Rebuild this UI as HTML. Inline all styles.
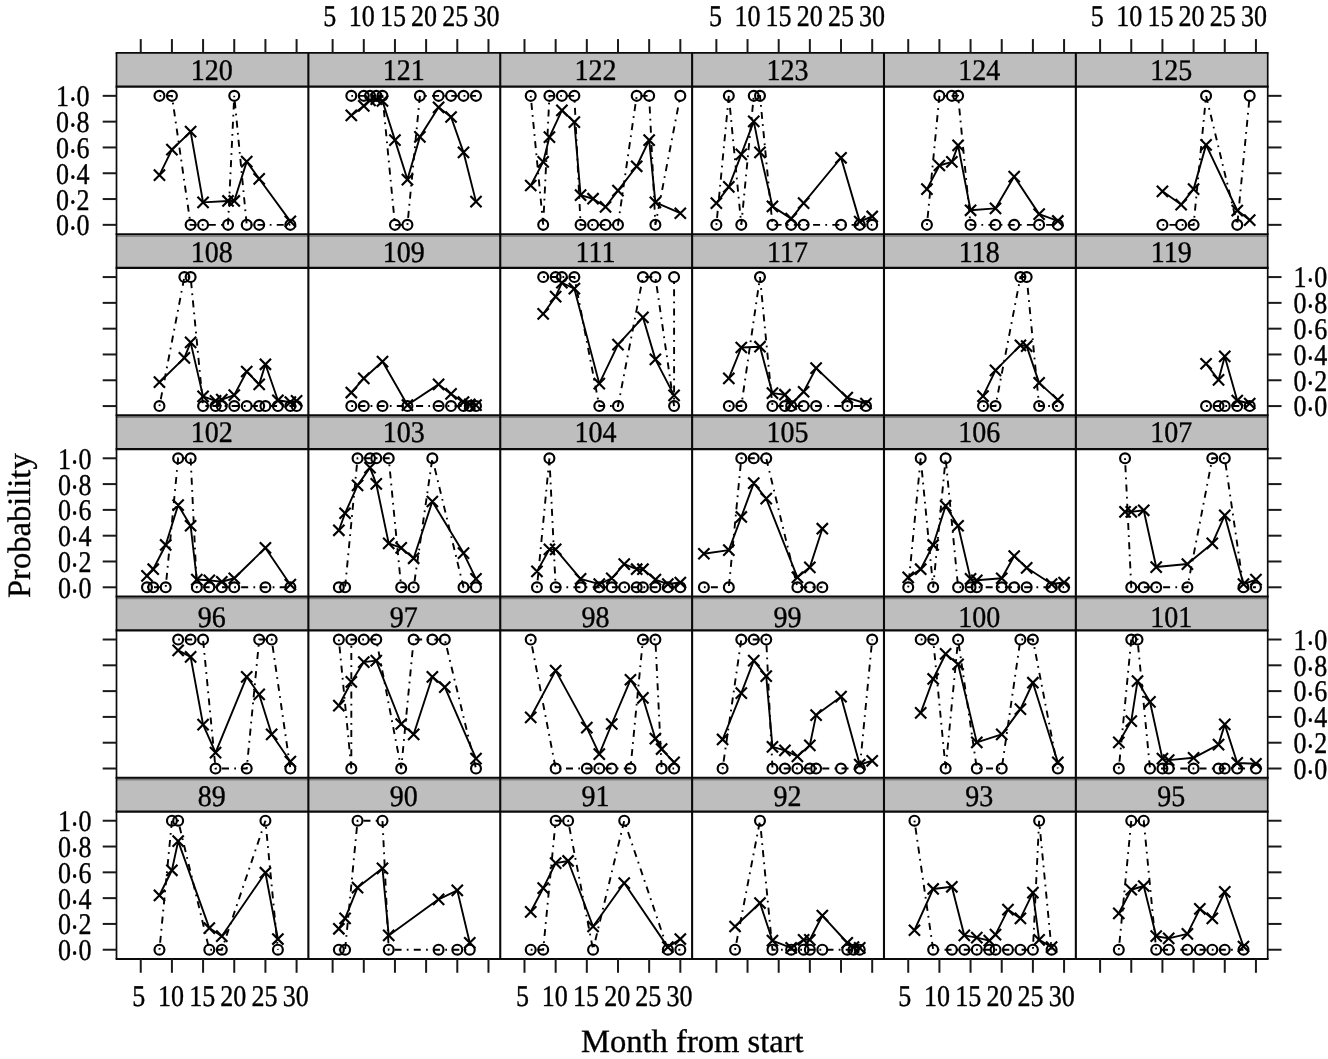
<!DOCTYPE html>
<html><head><meta charset="utf-8"><title>Probability by month from start</title>
<style>html,body{margin:0;padding:0;background:#fff}svg{display:block}svg text{stroke:#000;stroke-width:0.35px;stroke-linejoin:round}</style></head>
<body>
<svg width="1328" height="1059" viewBox="0 0 1328 1059" font-family="'Liberation Serif', serif" fill="#000" text-rendering="geometricPrecision">
<rect width="1328" height="1059" fill="#fff"/>
<rect x="116.5" y="52.88" width="1151.22" height="33.82" fill="#bebebe"/>
<rect x="116.5" y="234.1" width="1151.22" height="33.82" fill="#bebebe"/>
<rect x="116.5" y="234.9" width="1151.22" height="1.9" fill="#7d7d7d"/>
<rect x="116.5" y="415.32" width="1151.22" height="33.82" fill="#bebebe"/>
<rect x="116.5" y="416.12" width="1151.22" height="1.9" fill="#7d7d7d"/>
<rect x="116.5" y="596.54" width="1151.22" height="33.82" fill="#bebebe"/>
<rect x="116.5" y="597.34" width="1151.22" height="1.9" fill="#7d7d7d"/>
<rect x="116.5" y="777.76" width="1151.22" height="33.82" fill="#bebebe"/>
<rect x="116.5" y="778.56" width="1151.22" height="1.9" fill="#7d7d7d"/>
<g fill="none" stroke="#000"><polyline points="159.45,95.85 171.92,95.85 190.62,224.85 203.08,224.85 228.02,224.85 234.25,95.85 246.72,224.85 259.19,224.85 290.35,224.85" stroke-width="1.9" stroke-dasharray="1.75 5.25 7 5.25"/><polyline points="159.45,175.19 171.92,149.64 190.62,131.71 203.08,202.4 228.02,200.98 234.25,200.98 246.72,161.64 259.19,178.8 290.35,221.37" stroke-width="1.9" stroke-linejoin="round"/><circle cx="159.45" cy="95.85" r="4.95" stroke-width="2.15"/><circle cx="171.92" cy="95.85" r="4.95" stroke-width="2.15"/><circle cx="190.62" cy="224.85" r="4.95" stroke-width="2.15"/><circle cx="203.08" cy="224.85" r="4.95" stroke-width="2.15"/><circle cx="228.02" cy="224.85" r="4.95" stroke-width="2.15"/><circle cx="234.25" cy="95.85" r="4.95" stroke-width="2.15"/><circle cx="246.72" cy="224.85" r="4.95" stroke-width="2.15"/><circle cx="259.19" cy="224.85" r="4.95" stroke-width="2.15"/><circle cx="290.35" cy="224.85" r="4.95" stroke-width="2.15"/><path d="M153.85 169.59L165.05 180.78M153.85 180.78L165.05 169.59M166.32 144.04L177.52 155.24M166.32 155.24L177.52 144.04M185.02 126.11L196.22 137.31M185.02 137.31L196.22 126.11M197.48 196.8L208.68 208M197.48 208L208.68 196.8M222.42 195.38L233.62 206.58M222.42 206.58L233.62 195.38M228.65 195.38L239.85 206.58M228.65 206.58L239.85 195.38M241.12 156.04L252.32 167.24M241.12 167.24L252.32 156.04M253.59 173.2L264.79 184.4M253.59 184.4L264.79 173.2M284.75 215.77L295.95 226.97M284.75 226.97L295.95 215.77" stroke-width="2.15"/></g>
<g fill="none" stroke="#000"><polyline points="351.32,95.85 363.79,95.85 370.02,95.85 376.25,95.85 382.49,95.85 394.95,224.85 407.42,224.85 419.89,95.85 438.59,95.85 451.06,95.85 463.52,95.85 475.99,95.85" stroke-width="1.9" stroke-dasharray="1.75 5.25 7 5.25"/><polyline points="351.32,115.46 363.79,105.91 370.02,100.36 376.25,99.08 382.49,101.01 394.95,140.1 407.42,179.57 419.89,136.87 438.59,107.33 451.06,117.01 463.52,152.35 475.99,201.63" stroke-width="1.9" stroke-linejoin="round"/><circle cx="351.32" cy="95.85" r="4.95" stroke-width="2.15"/><circle cx="363.79" cy="95.85" r="4.95" stroke-width="2.15"/><circle cx="370.02" cy="95.85" r="4.95" stroke-width="2.15"/><circle cx="376.25" cy="95.85" r="4.95" stroke-width="2.15"/><circle cx="382.49" cy="95.85" r="4.95" stroke-width="2.15"/><circle cx="394.95" cy="224.85" r="4.95" stroke-width="2.15"/><circle cx="407.42" cy="224.85" r="4.95" stroke-width="2.15"/><circle cx="419.89" cy="95.85" r="4.95" stroke-width="2.15"/><circle cx="438.59" cy="95.85" r="4.95" stroke-width="2.15"/><circle cx="451.06" cy="95.85" r="4.95" stroke-width="2.15"/><circle cx="463.52" cy="95.85" r="4.95" stroke-width="2.15"/><circle cx="475.99" cy="95.85" r="4.95" stroke-width="2.15"/><path d="M345.72 109.86L356.92 121.06M345.72 121.06L356.92 109.86M358.19 100.31L369.39 111.51M358.19 111.51L369.39 100.31M364.42 94.77L375.62 105.96M364.42 105.96L375.62 94.77M370.65 93.48L381.85 104.67M370.65 104.67L381.85 93.48M376.89 95.41L388.09 106.61M376.89 106.61L388.09 95.41M389.35 134.5L400.55 145.7M389.35 145.7L400.55 134.5M401.82 173.97L413.02 185.17M401.82 185.17L413.02 173.97M414.29 131.27L425.49 142.47M414.29 142.47L425.49 131.27M432.99 101.73L444.19 112.93M432.99 112.93L444.19 101.73M445.46 111.41L456.66 122.61M445.46 122.61L456.66 111.41M457.92 146.75L469.12 157.95M457.92 157.95L469.12 146.75M470.39 196.03L481.59 207.23M470.39 207.23L481.59 196.03" stroke-width="2.15"/></g>
<g fill="none" stroke="#000"><polyline points="530.72,95.85 543.19,224.85 549.42,95.85 561.89,95.85 574.36,95.85 580.59,224.85 593.06,224.85 605.53,224.85 617.99,224.85 636.69,95.85 649.16,95.85 655.39,224.85 680.33,95.85" stroke-width="1.9" stroke-dasharray="1.75 5.25 7 5.25"/><polyline points="530.72,185.5 543.19,161.9 549.42,137.13 561.89,110.3 574.36,122.17 580.59,195.05 593.06,198.73 605.53,206.79 617.99,190.66 636.69,166.28 649.16,140.1 655.39,202.4 680.33,213.24" stroke-width="1.9" stroke-linejoin="round"/><circle cx="530.72" cy="95.85" r="4.95" stroke-width="2.15"/><circle cx="543.19" cy="224.85" r="4.95" stroke-width="2.15"/><circle cx="549.42" cy="95.85" r="4.95" stroke-width="2.15"/><circle cx="561.89" cy="95.85" r="4.95" stroke-width="2.15"/><circle cx="574.36" cy="95.85" r="4.95" stroke-width="2.15"/><circle cx="580.59" cy="224.85" r="4.95" stroke-width="2.15"/><circle cx="593.06" cy="224.85" r="4.95" stroke-width="2.15"/><circle cx="605.53" cy="224.85" r="4.95" stroke-width="2.15"/><circle cx="617.99" cy="224.85" r="4.95" stroke-width="2.15"/><circle cx="636.69" cy="95.85" r="4.95" stroke-width="2.15"/><circle cx="649.16" cy="95.85" r="4.95" stroke-width="2.15"/><circle cx="655.39" cy="224.85" r="4.95" stroke-width="2.15"/><circle cx="680.33" cy="95.85" r="4.95" stroke-width="2.15"/><path d="M525.12 179.91L536.32 191.1M525.12 191.1L536.32 179.91M537.59 156.3L548.79 167.5M537.59 167.5L548.79 156.3M543.82 131.53L555.02 142.73M543.82 142.73L555.02 131.53M556.29 104.7L567.49 115.9M556.29 115.9L567.49 104.7M568.76 116.57L579.96 127.77M568.76 127.77L579.96 116.57M574.99 189.45L586.19 200.65M574.99 200.65L586.19 189.45M587.46 193.13L598.66 204.33M587.46 204.33L598.66 193.13M599.93 201.19L611.13 212.39M599.93 212.39L611.13 201.19M612.39 185.06L623.59 196.26M612.39 196.26L623.59 185.06M631.09 160.68L642.29 171.88M631.09 171.88L642.29 160.68M643.56 134.5L654.76 145.7M643.56 145.7L654.76 134.5M649.79 196.8L660.99 208M649.79 208L660.99 196.8M674.73 207.64L685.93 218.84M674.73 218.84L685.93 207.64" stroke-width="2.15"/></g>
<g fill="none" stroke="#000"><polyline points="716.36,224.85 728.83,95.85 741.29,224.85 753.76,95.85 759.99,95.85 772.46,224.85 791.16,224.85 803.63,224.85 841.03,224.85 859.73,224.85 872.2,224.85" stroke-width="1.9" stroke-dasharray="1.75 5.25 7 5.25"/><polyline points="716.36,203.18 728.83,186.92 741.29,154.29 753.76,121.39 759.99,152.35 772.46,206.4 791.16,218.66 803.63,203.18 841.03,157.77 859.73,221.62 872.2,216.47" stroke-width="1.9" stroke-linejoin="round"/><circle cx="716.36" cy="224.85" r="4.95" stroke-width="2.15"/><circle cx="728.83" cy="95.85" r="4.95" stroke-width="2.15"/><circle cx="741.29" cy="224.85" r="4.95" stroke-width="2.15"/><circle cx="753.76" cy="95.85" r="4.95" stroke-width="2.15"/><circle cx="759.99" cy="95.85" r="4.95" stroke-width="2.15"/><circle cx="772.46" cy="224.85" r="4.95" stroke-width="2.15"/><circle cx="791.16" cy="224.85" r="4.95" stroke-width="2.15"/><circle cx="803.63" cy="224.85" r="4.95" stroke-width="2.15"/><circle cx="841.03" cy="224.85" r="4.95" stroke-width="2.15"/><circle cx="859.73" cy="224.85" r="4.95" stroke-width="2.15"/><circle cx="872.2" cy="224.85" r="4.95" stroke-width="2.15"/><path d="M710.76 197.58L721.96 208.78M710.76 208.78L721.96 197.58M723.23 181.32L734.43 192.52M723.23 192.52L734.43 181.32M735.69 148.69L746.89 159.89M735.69 159.89L746.89 148.69M748.16 115.79L759.36 126.99M748.16 126.99L759.36 115.79M754.39 146.75L765.59 157.95M754.39 157.95L765.59 146.75M766.86 200.8L778.06 212M766.86 212L778.06 200.8M785.56 213.06L796.76 224.26M785.56 224.26L796.76 213.06M798.03 197.58L809.23 208.78M798.03 208.78L809.23 197.58M835.43 152.17L846.63 163.37M835.43 163.37L846.63 152.17M854.13 216.03L865.33 227.22M854.13 227.22L865.33 216.03M866.6 210.87L877.8 222.06M866.6 222.06L877.8 210.87" stroke-width="2.15"/></g>
<g fill="none" stroke="#000"><polyline points="926.93,224.85 939.4,95.85 951.86,95.85 958.1,95.85 970.56,224.85 995.5,224.85 1014.2,224.85 1039.13,224.85 1057.83,224.85" stroke-width="1.9" stroke-dasharray="1.75 5.25 7 5.25"/><polyline points="926.93,189.12 939.4,165.51 951.86,161.9 958.1,145.39 970.56,210.27 995.5,208.34 1014.2,176.6 1039.13,214.14 1057.83,220.98" stroke-width="1.9" stroke-linejoin="round"/><circle cx="926.93" cy="224.85" r="4.95" stroke-width="2.15"/><circle cx="939.4" cy="95.85" r="4.95" stroke-width="2.15"/><circle cx="951.86" cy="95.85" r="4.95" stroke-width="2.15"/><circle cx="958.1" cy="95.85" r="4.95" stroke-width="2.15"/><circle cx="970.56" cy="224.85" r="4.95" stroke-width="2.15"/><circle cx="995.5" cy="224.85" r="4.95" stroke-width="2.15"/><circle cx="1014.2" cy="224.85" r="4.95" stroke-width="2.15"/><circle cx="1039.13" cy="224.85" r="4.95" stroke-width="2.15"/><circle cx="1057.83" cy="224.85" r="4.95" stroke-width="2.15"/><path d="M921.33 183.52L932.53 194.72M921.33 194.72L932.53 183.52M933.8 159.91L945 171.11M933.8 171.11L945 159.91M946.26 156.3L957.46 167.5M946.26 167.5L957.46 156.3M952.5 139.79L963.7 150.99M952.5 150.99L963.7 139.79M964.96 204.67L976.16 215.87M964.96 215.87L976.16 204.67M989.9 202.74L1001.1 213.94M989.9 213.94L1001.1 202.74M1008.6 171L1019.8 182.2M1008.6 182.2L1019.8 171M1033.53 208.54L1044.73 219.74M1033.53 219.74L1044.73 208.54M1052.23 215.38L1063.43 226.58M1052.23 226.58L1063.43 215.38" stroke-width="2.15"/></g>
<g fill="none" stroke="#000"><polyline points="1162.43,224.85 1181.14,224.85 1193.6,224.85 1206.07,95.85 1237.24,224.85 1249.7,95.85" stroke-width="1.9" stroke-dasharray="1.75 5.25 7 5.25"/><polyline points="1162.43,191.31 1181.14,204.6 1193.6,189.12 1206.07,144.87 1237.24,210.53 1249.7,220.08" stroke-width="1.9" stroke-linejoin="round"/><circle cx="1162.43" cy="224.85" r="4.95" stroke-width="2.15"/><circle cx="1181.14" cy="224.85" r="4.95" stroke-width="2.15"/><circle cx="1193.6" cy="224.85" r="4.95" stroke-width="2.15"/><circle cx="1206.07" cy="95.85" r="4.95" stroke-width="2.15"/><circle cx="1237.24" cy="224.85" r="4.95" stroke-width="2.15"/><circle cx="1249.7" cy="95.85" r="4.95" stroke-width="2.15"/><path d="M1156.83 185.71L1168.03 196.91M1156.83 196.91L1168.03 185.71M1175.54 199L1186.74 210.2M1175.54 210.2L1186.74 199M1188 183.52L1199.2 194.72M1188 194.72L1199.2 183.52M1200.47 139.27L1211.67 150.47M1200.47 150.47L1211.67 139.27M1231.64 204.93L1242.84 216.13M1231.64 216.13L1242.84 204.93M1244.1 214.48L1255.3 225.68M1244.1 225.68L1255.3 214.48" stroke-width="2.15"/></g>
<g fill="none" stroke="#000"><polyline points="159.45,406.07 184.38,277.07 190.62,277.07 203.08,406.07 215.55,406.07 221.79,406.07 234.25,406.07 246.72,406.07 259.19,406.07 265.42,406.07 277.89,406.07 290.35,406.07 296.59,406.07" stroke-width="1.9" stroke-dasharray="1.75 5.25 7 5.25"/><polyline points="159.45,382.2 184.38,357.82 190.62,342.34 203.08,396.39 215.55,400.91 221.79,399.62 234.25,395.11 246.72,371.5 259.19,384.4 265.42,364.27 277.89,400.26 290.35,402.2 296.59,400.91" stroke-width="1.9" stroke-linejoin="round"/><circle cx="159.45" cy="406.07" r="4.95" stroke-width="2.15"/><circle cx="184.38" cy="277.07" r="4.95" stroke-width="2.15"/><circle cx="190.62" cy="277.07" r="4.95" stroke-width="2.15"/><circle cx="203.08" cy="406.07" r="4.95" stroke-width="2.15"/><circle cx="215.55" cy="406.07" r="4.95" stroke-width="2.15"/><circle cx="221.79" cy="406.07" r="4.95" stroke-width="2.15"/><circle cx="234.25" cy="406.07" r="4.95" stroke-width="2.15"/><circle cx="246.72" cy="406.07" r="4.95" stroke-width="2.15"/><circle cx="259.19" cy="406.07" r="4.95" stroke-width="2.15"/><circle cx="265.42" cy="406.07" r="4.95" stroke-width="2.15"/><circle cx="277.89" cy="406.07" r="4.95" stroke-width="2.15"/><circle cx="290.35" cy="406.07" r="4.95" stroke-width="2.15"/><circle cx="296.59" cy="406.07" r="4.95" stroke-width="2.15"/><path d="M153.85 376.6L165.05 387.81M153.85 387.81L165.05 376.6M178.78 352.22L189.98 363.42M178.78 363.42L189.98 352.22M185.02 336.74L196.22 347.94M185.02 347.94L196.22 336.74M197.48 390.79L208.68 402M197.48 402L208.68 390.79M209.95 395.31L221.15 406.51M209.95 406.51L221.15 395.31M216.19 394.02L227.39 405.22M216.19 405.22L227.39 394.02M228.65 389.5L239.85 400.71M228.65 400.71L239.85 389.5M241.12 365.9L252.32 377.1M241.12 377.1L252.32 365.9M253.59 378.8L264.79 390M253.59 390L264.79 378.8M259.82 358.67L271.02 369.87M259.82 369.87L271.02 358.67M272.29 394.66L283.49 405.87M272.29 405.87L283.49 394.66M284.75 396.6L295.95 407.8M284.75 407.8L295.95 396.6M290.99 395.31L302.19 406.51M290.99 406.51L302.19 395.31" stroke-width="2.15"/></g>
<g fill="none" stroke="#000"><polyline points="351.32,406.07 363.79,406.07 382.49,406.07 407.42,406.07 438.59,406.07 451.06,406.07 463.52,406.07 469.76,406.07 475.99,406.07" stroke-width="1.9" stroke-dasharray="1.75 5.25 7 5.25"/><polyline points="351.32,392.52 363.79,378.46 382.49,361.56 407.42,405.04 438.59,384.4 451.06,393.94 463.52,402.2 469.76,404.26 475.99,405.04" stroke-width="1.9" stroke-linejoin="round"/><circle cx="351.32" cy="406.07" r="4.95" stroke-width="2.15"/><circle cx="363.79" cy="406.07" r="4.95" stroke-width="2.15"/><circle cx="382.49" cy="406.07" r="4.95" stroke-width="2.15"/><circle cx="407.42" cy="406.07" r="4.95" stroke-width="2.15"/><circle cx="438.59" cy="406.07" r="4.95" stroke-width="2.15"/><circle cx="451.06" cy="406.07" r="4.95" stroke-width="2.15"/><circle cx="463.52" cy="406.07" r="4.95" stroke-width="2.15"/><circle cx="469.76" cy="406.07" r="4.95" stroke-width="2.15"/><circle cx="475.99" cy="406.07" r="4.95" stroke-width="2.15"/><path d="M345.72 386.92L356.92 398.12M345.72 398.12L356.92 386.92M358.19 372.86L369.39 384.06M358.19 384.06L369.39 372.86M376.89 355.96L388.09 367.17M376.89 367.17L388.09 355.96M401.82 399.44L413.02 410.64M401.82 410.64L413.02 399.44M432.99 378.8L444.19 390M432.99 390L444.19 378.8M445.46 388.34L456.66 399.54M445.46 399.54L456.66 388.34M457.92 396.6L469.12 407.8M457.92 407.8L469.12 396.6M464.16 398.66L475.36 409.86M464.16 409.86L475.36 398.66M470.39 399.44L481.59 410.64M470.39 410.64L481.59 399.44" stroke-width="2.15"/></g>
<g fill="none" stroke="#000"><polyline points="543.19,277.07 555.66,277.07 561.89,277.07 574.36,277.07 599.29,406.07 617.99,406.07 642.93,277.07 655.39,277.07 674.09,406.07 674.09,277.07" stroke-width="1.9" stroke-dasharray="1.75 5.25 7 5.25"/><polyline points="543.19,313.96 555.66,296.68 561.89,282.75 574.36,288.68 599.29,383.62 617.99,344.54 642.93,317.32 655.39,359.37 674.09,395.36" stroke-width="1.9" stroke-linejoin="round"/><circle cx="543.19" cy="277.07" r="4.95" stroke-width="2.15"/><circle cx="555.66" cy="277.07" r="4.95" stroke-width="2.15"/><circle cx="561.89" cy="277.07" r="4.95" stroke-width="2.15"/><circle cx="574.36" cy="277.07" r="4.95" stroke-width="2.15"/><circle cx="599.29" cy="406.07" r="4.95" stroke-width="2.15"/><circle cx="617.99" cy="406.07" r="4.95" stroke-width="2.15"/><circle cx="642.93" cy="277.07" r="4.95" stroke-width="2.15"/><circle cx="655.39" cy="277.07" r="4.95" stroke-width="2.15"/><circle cx="674.09" cy="406.07" r="4.95" stroke-width="2.15"/><circle cx="674.09" cy="277.07" r="4.95" stroke-width="2.15"/><path d="M537.59 308.36L548.79 319.56M537.59 319.56L548.79 308.36M550.06 291.08L561.26 302.28M550.06 302.28L561.26 291.08M556.29 277.15L567.49 288.35M556.29 288.35L567.49 277.15M568.76 283.08L579.96 294.28M568.76 294.28L579.96 283.08M593.69 378.02L604.89 389.22M593.69 389.22L604.89 378.02M612.39 338.94L623.59 350.14M612.39 350.14L623.59 338.94M637.33 311.72L648.53 322.92M637.33 322.92L648.53 311.72M649.79 353.77L660.99 364.97M649.79 364.97L660.99 353.77M668.49 389.76L679.69 400.96M668.49 400.96L679.69 389.76" stroke-width="2.15"/></g>
<g fill="none" stroke="#000"><polyline points="728.83,406.07 741.29,406.07 759.99,277.07 772.46,406.07 784.93,406.07 791.16,406.07 803.63,406.07 816.1,406.07 847.26,406.07 865.96,406.07" stroke-width="1.9" stroke-dasharray="1.75 5.25 7 5.25"/><polyline points="728.83,378.46 741.29,347.5 759.99,346.73 772.46,393.17 784.93,394.72 791.16,404.26 803.63,391.75 816.1,368.14 847.26,397.69 865.96,403.49" stroke-width="1.9" stroke-linejoin="round"/><circle cx="728.83" cy="406.07" r="4.95" stroke-width="2.15"/><circle cx="741.29" cy="406.07" r="4.95" stroke-width="2.15"/><circle cx="759.99" cy="277.07" r="4.95" stroke-width="2.15"/><circle cx="772.46" cy="406.07" r="4.95" stroke-width="2.15"/><circle cx="784.93" cy="406.07" r="4.95" stroke-width="2.15"/><circle cx="791.16" cy="406.07" r="4.95" stroke-width="2.15"/><circle cx="803.63" cy="406.07" r="4.95" stroke-width="2.15"/><circle cx="816.1" cy="406.07" r="4.95" stroke-width="2.15"/><circle cx="847.26" cy="406.07" r="4.95" stroke-width="2.15"/><circle cx="865.96" cy="406.07" r="4.95" stroke-width="2.15"/><path d="M723.23 372.86L734.43 384.06M723.23 384.06L734.43 372.86M735.69 341.9L746.89 353.1M735.69 353.1L746.89 341.9M754.39 341.13L765.59 352.33M754.39 352.33L765.59 341.13M766.86 387.57L778.06 398.77M766.86 398.77L778.06 387.57M779.33 389.12L790.53 400.32M779.33 400.32L790.53 389.12M785.56 398.66L796.76 409.86M785.56 409.86L796.76 398.66M798.03 386.15L809.23 397.35M798.03 397.35L809.23 386.15M810.5 362.54L821.7 373.74M810.5 373.74L821.7 362.54M841.66 392.08L852.86 403.29M841.66 403.29L852.86 392.08M860.36 397.89L871.56 409.09M860.36 409.09L871.56 397.89" stroke-width="2.15"/></g>
<g fill="none" stroke="#000"><polyline points="983.03,406.07 995.5,406.07 1020.43,277.07 1026.67,277.07 1039.13,406.07 1057.83,406.07" stroke-width="1.9" stroke-dasharray="1.75 5.25 7 5.25"/><polyline points="983.03,396.14 995.5,370.34 1020.43,345.31 1026.67,346.08 1039.13,382.85 1057.83,399.88" stroke-width="1.9" stroke-linejoin="round"/><circle cx="983.03" cy="406.07" r="4.95" stroke-width="2.15"/><circle cx="995.5" cy="406.07" r="4.95" stroke-width="2.15"/><circle cx="1020.43" cy="277.07" r="4.95" stroke-width="2.15"/><circle cx="1026.67" cy="277.07" r="4.95" stroke-width="2.15"/><circle cx="1039.13" cy="406.07" r="4.95" stroke-width="2.15"/><circle cx="1057.83" cy="406.07" r="4.95" stroke-width="2.15"/><path d="M977.43 390.54L988.63 401.74M977.43 401.74L988.63 390.54M989.9 364.74L1001.1 375.94M989.9 375.94L1001.1 364.74M1014.83 339.71L1026.03 350.91M1014.83 350.91L1026.03 339.71M1021.07 340.48L1032.27 351.69M1021.07 351.69L1032.27 340.48M1033.53 377.25L1044.73 388.45M1033.53 388.45L1044.73 377.25M1052.23 394.28L1063.43 405.48M1052.23 405.48L1063.43 394.28" stroke-width="2.15"/></g>
<g fill="none" stroke="#000"><polyline points="1206.07,406.07 1218.54,406.07 1224.77,406.07 1237.24,406.07 1249.7,406.07" stroke-width="1.9" stroke-dasharray="1.75 5.25 7 5.25"/><polyline points="1206.07,363.76 1218.54,379.95 1224.77,356.4 1237.24,400.52 1249.7,403.49" stroke-width="1.9" stroke-linejoin="round"/><circle cx="1206.07" cy="406.07" r="4.95" stroke-width="2.15"/><circle cx="1218.54" cy="406.07" r="4.95" stroke-width="2.15"/><circle cx="1224.77" cy="406.07" r="4.95" stroke-width="2.15"/><circle cx="1237.24" cy="406.07" r="4.95" stroke-width="2.15"/><circle cx="1249.7" cy="406.07" r="4.95" stroke-width="2.15"/><path d="M1200.47 358.16L1211.67 369.36M1200.47 369.36L1211.67 358.16M1212.94 374.35L1224.14 385.55M1212.94 385.55L1224.14 374.35M1219.17 350.8L1230.37 362M1219.17 362L1230.37 350.8M1231.64 394.92L1242.84 406.12M1231.64 406.12L1242.84 394.92M1244.1 397.89L1255.3 409.09M1244.1 409.09L1255.3 397.89" stroke-width="2.15"/></g>
<g fill="none" stroke="#000"><polyline points="146.98,587.29 153.22,587.29 165.68,587.29 178.15,458.29 190.62,458.29 196.85,587.29 209.32,587.29 221.79,587.29 234.25,587.29 265.42,587.29 290.35,587.29" stroke-width="1.9" stroke-dasharray="1.75 5.25 7 5.25"/><polyline points="146.98,575.94 153.22,569.23 165.68,544.98 178.15,505.12 190.62,525.76 196.85,579.55 209.32,580.32 221.79,581.74 234.25,578.26 265.42,547.94 290.35,584.71" stroke-width="1.9" stroke-linejoin="round"/><circle cx="146.98" cy="587.29" r="4.95" stroke-width="2.15"/><circle cx="153.22" cy="587.29" r="4.95" stroke-width="2.15"/><circle cx="165.68" cy="587.29" r="4.95" stroke-width="2.15"/><circle cx="178.15" cy="458.29" r="4.95" stroke-width="2.15"/><circle cx="190.62" cy="458.29" r="4.95" stroke-width="2.15"/><circle cx="196.85" cy="587.29" r="4.95" stroke-width="2.15"/><circle cx="209.32" cy="587.29" r="4.95" stroke-width="2.15"/><circle cx="221.79" cy="587.29" r="4.95" stroke-width="2.15"/><circle cx="234.25" cy="587.29" r="4.95" stroke-width="2.15"/><circle cx="265.42" cy="587.29" r="4.95" stroke-width="2.15"/><circle cx="290.35" cy="587.29" r="4.95" stroke-width="2.15"/><path d="M141.38 570.34L152.58 581.54M141.38 581.54L152.58 570.34M147.62 563.63L158.82 574.83M147.62 574.83L158.82 563.63M160.08 539.38L171.28 550.58M160.08 550.58L171.28 539.38M172.55 499.52L183.75 510.72M172.55 510.72L183.75 499.52M185.02 520.16L196.22 531.36M185.02 531.36L196.22 520.16M191.25 573.95L202.45 585.15M191.25 585.15L202.45 573.95M203.72 574.72L214.92 585.92M203.72 585.92L214.92 574.72M216.19 576.14L227.39 587.34M216.19 587.34L227.39 576.14M228.65 572.66L239.85 583.86M228.65 583.86L239.85 572.66M259.82 542.34L271.02 553.54M259.82 553.54L271.02 542.34M284.75 579.11L295.95 590.31M284.75 590.31L295.95 579.11" stroke-width="2.15"/></g>
<g fill="none" stroke="#000"><polyline points="338.85,587.29 345.09,587.29 357.55,458.29 370.02,458.29 376.25,458.29 388.72,458.29 401.19,587.29 413.66,587.29 432.36,458.29 463.52,587.29 475.99,587.29" stroke-width="1.9" stroke-dasharray="1.75 5.25 7 5.25"/><polyline points="338.85,530.27 345.09,513.24 357.55,485.38 370.02,467.58 376.25,483.83 388.72,543.43 401.19,547.94 413.66,558.26 432.36,501.5 463.52,553.11 475.99,578.9" stroke-width="1.9" stroke-linejoin="round"/><circle cx="338.85" cy="587.29" r="4.95" stroke-width="2.15"/><circle cx="345.09" cy="587.29" r="4.95" stroke-width="2.15"/><circle cx="357.55" cy="458.29" r="4.95" stroke-width="2.15"/><circle cx="370.02" cy="458.29" r="4.95" stroke-width="2.15"/><circle cx="376.25" cy="458.29" r="4.95" stroke-width="2.15"/><circle cx="388.72" cy="458.29" r="4.95" stroke-width="2.15"/><circle cx="401.19" cy="587.29" r="4.95" stroke-width="2.15"/><circle cx="413.66" cy="587.29" r="4.95" stroke-width="2.15"/><circle cx="432.36" cy="458.29" r="4.95" stroke-width="2.15"/><circle cx="463.52" cy="587.29" r="4.95" stroke-width="2.15"/><circle cx="475.99" cy="587.29" r="4.95" stroke-width="2.15"/><path d="M333.25 524.67L344.45 535.87M333.25 535.87L344.45 524.67M339.49 507.64L350.69 518.84M339.49 518.84L350.69 507.64M351.95 479.78L363.15 490.98M351.95 490.98L363.15 479.78M364.42 461.98L375.62 473.18M364.42 473.18L375.62 461.98M370.65 478.23L381.85 489.43M370.65 489.43L381.85 478.23M383.12 537.83L394.32 549.03M383.12 549.03L394.32 537.83M395.59 542.34L406.79 553.54M395.59 553.54L406.79 542.34M408.06 552.66L419.26 563.87M408.06 563.87L419.26 552.66M426.76 495.9L437.96 507.1M426.76 507.1L437.96 495.9M457.92 547.5L469.12 558.71M457.92 558.71L469.12 547.5M470.39 573.3L481.59 584.5M470.39 584.5L481.59 573.3" stroke-width="2.15"/></g>
<g fill="none" stroke="#000"><polyline points="536.96,587.29 549.42,458.29 555.66,587.29 580.59,587.29 599.29,587.29 611.76,587.29 624.23,587.29 636.69,587.29 642.93,587.29 655.39,587.29 667.86,587.29 680.33,587.29" stroke-width="1.9" stroke-dasharray="1.75 5.25 7 5.25"/><polyline points="536.96,571.42 549.42,549.36 555.66,549.36 580.59,578.9 599.29,584.06 611.76,578.26 624.23,564.07 636.69,569.23 642.93,569.23 655.39,579.55 667.86,584.06 680.33,582.52" stroke-width="1.9" stroke-linejoin="round"/><circle cx="536.96" cy="587.29" r="4.95" stroke-width="2.15"/><circle cx="549.42" cy="458.29" r="4.95" stroke-width="2.15"/><circle cx="555.66" cy="587.29" r="4.95" stroke-width="2.15"/><circle cx="580.59" cy="587.29" r="4.95" stroke-width="2.15"/><circle cx="599.29" cy="587.29" r="4.95" stroke-width="2.15"/><circle cx="611.76" cy="587.29" r="4.95" stroke-width="2.15"/><circle cx="624.23" cy="587.29" r="4.95" stroke-width="2.15"/><circle cx="636.69" cy="587.29" r="4.95" stroke-width="2.15"/><circle cx="642.93" cy="587.29" r="4.95" stroke-width="2.15"/><circle cx="655.39" cy="587.29" r="4.95" stroke-width="2.15"/><circle cx="667.86" cy="587.29" r="4.95" stroke-width="2.15"/><circle cx="680.33" cy="587.29" r="4.95" stroke-width="2.15"/><path d="M531.36 565.82L542.56 577.02M531.36 577.02L542.56 565.82M543.82 543.76L555.02 554.96M543.82 554.96L555.02 543.76M550.06 543.76L561.26 554.96M550.06 554.96L561.26 543.76M574.99 573.3L586.19 584.5M574.99 584.5L586.19 573.3M593.69 578.46L604.89 589.66M593.69 589.66L604.89 578.46M606.16 572.66L617.36 583.86M606.16 583.86L617.36 572.66M618.63 558.47L629.83 569.67M618.63 569.67L629.83 558.47M631.09 563.63L642.29 574.83M631.09 574.83L642.29 563.63M637.33 563.63L648.53 574.83M637.33 574.83L648.53 563.63M649.79 573.95L660.99 585.15M649.79 585.15L660.99 573.95M662.26 578.46L673.46 589.66M662.26 589.66L673.46 578.46M674.73 576.92L685.93 588.12M674.73 588.12L685.93 576.92" stroke-width="2.15"/></g>
<g fill="none" stroke="#000"><polyline points="703.89,587.29 728.83,587.29 741.29,458.29 753.76,458.29 766.23,458.29 797.4,587.29 809.86,587.29 822.33,587.29" stroke-width="1.9" stroke-dasharray="1.75 5.25 7 5.25"/><polyline points="703.89,553.75 728.83,550.14 741.29,516.98 753.76,483.06 766.23,498.54 797.4,577.36 809.86,567.29 822.33,528.72" stroke-width="1.9" stroke-linejoin="round"/><circle cx="703.89" cy="587.29" r="4.95" stroke-width="2.15"/><circle cx="728.83" cy="587.29" r="4.95" stroke-width="2.15"/><circle cx="741.29" cy="458.29" r="4.95" stroke-width="2.15"/><circle cx="753.76" cy="458.29" r="4.95" stroke-width="2.15"/><circle cx="766.23" cy="458.29" r="4.95" stroke-width="2.15"/><circle cx="797.4" cy="587.29" r="4.95" stroke-width="2.15"/><circle cx="809.86" cy="587.29" r="4.95" stroke-width="2.15"/><circle cx="822.33" cy="587.29" r="4.95" stroke-width="2.15"/><path d="M698.29 548.15L709.49 559.35M698.29 559.35L709.49 548.15M723.23 544.54L734.43 555.74M723.23 555.74L734.43 544.54M735.69 511.38L746.89 522.58M735.69 522.58L746.89 511.38M748.16 477.46L759.36 488.66M748.16 488.66L759.36 477.46M760.63 492.94L771.83 504.14M760.63 504.14L771.83 492.94M791.8 571.76L803 582.96M791.8 582.96L803 571.76M804.26 561.69L815.46 572.89M804.26 572.89L815.46 561.69M816.73 523.12L827.93 534.32M816.73 534.32L827.93 523.12" stroke-width="2.15"/></g>
<g fill="none" stroke="#000"><polyline points="908.23,587.29 920.7,458.29 933.16,587.29 945.63,458.29 958.1,587.29 970.56,587.29 976.8,587.29 1001.73,587.29 1014.2,587.29 1026.67,587.29 1051.6,587.29 1064.07,587.29" stroke-width="1.9" stroke-dasharray="1.75 5.25 7 5.25"/><polyline points="908.23,577.36 920.7,569.23 933.16,544.98 945.63,505.89 958.1,525.76 970.56,578.9 976.8,580.32 1001.73,578.26 1014.2,556.01 1026.67,567.81 1051.6,584.06 1064.07,582.52" stroke-width="1.9" stroke-linejoin="round"/><circle cx="908.23" cy="587.29" r="4.95" stroke-width="2.15"/><circle cx="920.7" cy="458.29" r="4.95" stroke-width="2.15"/><circle cx="933.16" cy="587.29" r="4.95" stroke-width="2.15"/><circle cx="945.63" cy="458.29" r="4.95" stroke-width="2.15"/><circle cx="958.1" cy="587.29" r="4.95" stroke-width="2.15"/><circle cx="970.56" cy="587.29" r="4.95" stroke-width="2.15"/><circle cx="976.8" cy="587.29" r="4.95" stroke-width="2.15"/><circle cx="1001.73" cy="587.29" r="4.95" stroke-width="2.15"/><circle cx="1014.2" cy="587.29" r="4.95" stroke-width="2.15"/><circle cx="1026.67" cy="587.29" r="4.95" stroke-width="2.15"/><circle cx="1051.6" cy="587.29" r="4.95" stroke-width="2.15"/><circle cx="1064.07" cy="587.29" r="4.95" stroke-width="2.15"/><path d="M902.63 571.76L913.83 582.96M902.63 582.96L913.83 571.76M915.1 563.63L926.3 574.83M915.1 574.83L926.3 563.63M927.56 539.38L938.76 550.58M927.56 550.58L938.76 539.38M940.03 500.29L951.23 511.49M940.03 511.49L951.23 500.29M952.5 520.16L963.7 531.36M952.5 531.36L963.7 520.16M964.96 573.3L976.16 584.5M964.96 584.5L976.16 573.3M971.2 574.72L982.4 585.92M971.2 585.92L982.4 574.72M996.13 572.66L1007.33 583.86M996.13 583.86L1007.33 572.66M1008.6 550.41L1019.8 561.61M1008.6 561.61L1019.8 550.41M1021.07 562.21L1032.27 573.41M1021.07 573.41L1032.27 562.21M1046 578.46L1057.2 589.66M1046 589.66L1057.2 578.46M1058.47 576.92L1069.67 588.12M1058.47 588.12L1069.67 576.92" stroke-width="2.15"/></g>
<g fill="none" stroke="#000"><polyline points="1125.03,458.29 1131.27,587.29 1143.73,587.29 1156.2,587.29 1187.37,587.29 1212.3,458.29 1224.77,458.29 1243.47,587.29 1255.94,587.29" stroke-width="1.9" stroke-dasharray="1.75 5.25 7 5.25"/><polyline points="1125.03,511.82 1131.27,511.82 1143.73,510.28 1156.2,567.04 1187.37,564.07 1212.3,543.43 1224.77,515.44 1243.47,584.06 1255.94,579.55" stroke-width="1.9" stroke-linejoin="round"/><circle cx="1125.03" cy="458.29" r="4.95" stroke-width="2.15"/><circle cx="1131.27" cy="587.29" r="4.95" stroke-width="2.15"/><circle cx="1143.73" cy="587.29" r="4.95" stroke-width="2.15"/><circle cx="1156.2" cy="587.29" r="4.95" stroke-width="2.15"/><circle cx="1187.37" cy="587.29" r="4.95" stroke-width="2.15"/><circle cx="1212.3" cy="458.29" r="4.95" stroke-width="2.15"/><circle cx="1224.77" cy="458.29" r="4.95" stroke-width="2.15"/><circle cx="1243.47" cy="587.29" r="4.95" stroke-width="2.15"/><circle cx="1255.94" cy="587.29" r="4.95" stroke-width="2.15"/><path d="M1119.43 506.22L1130.63 517.42M1119.43 517.42L1130.63 506.22M1125.67 506.22L1136.87 517.42M1125.67 517.42L1136.87 506.22M1138.13 504.68L1149.33 515.88M1138.13 515.88L1149.33 504.68M1150.6 561.44L1161.8 572.64M1150.6 572.64L1161.8 561.44M1181.77 558.47L1192.97 569.67M1181.77 569.67L1192.97 558.47M1206.7 537.83L1217.9 549.03M1206.7 549.03L1217.9 537.83M1219.17 509.84L1230.37 521.04M1219.17 521.04L1230.37 509.84M1237.87 578.46L1249.07 589.66M1237.87 589.66L1249.07 578.46M1250.34 573.95L1261.54 585.15M1250.34 585.15L1261.54 573.95" stroke-width="2.15"/></g>
<g fill="none" stroke="#000"><polyline points="178.15,639.51 190.62,639.51 203.08,639.51 215.55,768.51 246.72,768.51 259.19,639.51 271.65,639.51 290.35,768.51" stroke-width="1.9" stroke-dasharray="1.75 5.25 7 5.25"/><polyline points="178.15,650.35 190.62,656.92 203.08,724.65 215.55,752.64 246.72,676.79 259.19,694.46 271.65,734.33 290.35,761.54" stroke-width="1.9" stroke-linejoin="round"/><circle cx="178.15" cy="639.51" r="4.95" stroke-width="2.15"/><circle cx="190.62" cy="639.51" r="4.95" stroke-width="2.15"/><circle cx="203.08" cy="639.51" r="4.95" stroke-width="2.15"/><circle cx="215.55" cy="768.51" r="4.95" stroke-width="2.15"/><circle cx="246.72" cy="768.51" r="4.95" stroke-width="2.15"/><circle cx="259.19" cy="639.51" r="4.95" stroke-width="2.15"/><circle cx="271.65" cy="639.51" r="4.95" stroke-width="2.15"/><circle cx="290.35" cy="768.51" r="4.95" stroke-width="2.15"/><path d="M172.55 644.75L183.75 655.95M172.55 655.95L183.75 644.75M185.02 651.32L196.22 662.52M185.02 662.52L196.22 651.32M197.48 719.05L208.68 730.25M197.48 730.25L208.68 719.05M209.95 747.04L221.15 758.24M209.95 758.24L221.15 747.04M241.12 671.19L252.32 682.39M241.12 682.39L252.32 671.19M253.59 688.86L264.79 700.06M253.59 700.06L264.79 688.86M266.05 728.73L277.25 739.93M266.05 739.93L277.25 728.73M284.75 755.94L295.95 767.14M284.75 767.14L295.95 755.94" stroke-width="2.15"/></g>
<g fill="none" stroke="#000"><polyline points="338.85,639.51 351.32,768.51 351.32,639.51 363.79,639.51 376.25,639.51 401.19,768.51 413.66,639.51 432.36,639.51 444.82,639.51 475.99,768.51" stroke-width="1.9" stroke-dasharray="1.75 5.25 7 5.25"/><polyline points="338.85,705.56 351.32,681.95 363.79,662.09 376.25,660.67 401.19,724 413.66,734.33 432.36,676.79 444.82,687.11 475.99,758.58" stroke-width="1.9" stroke-linejoin="round"/><circle cx="338.85" cy="639.51" r="4.95" stroke-width="2.15"/><circle cx="351.32" cy="768.51" r="4.95" stroke-width="2.15"/><circle cx="351.32" cy="639.51" r="4.95" stroke-width="2.15"/><circle cx="363.79" cy="639.51" r="4.95" stroke-width="2.15"/><circle cx="376.25" cy="639.51" r="4.95" stroke-width="2.15"/><circle cx="401.19" cy="768.51" r="4.95" stroke-width="2.15"/><circle cx="413.66" cy="639.51" r="4.95" stroke-width="2.15"/><circle cx="432.36" cy="639.51" r="4.95" stroke-width="2.15"/><circle cx="444.82" cy="639.51" r="4.95" stroke-width="2.15"/><circle cx="475.99" cy="768.51" r="4.95" stroke-width="2.15"/><path d="M333.25 699.96L344.45 711.16M333.25 711.16L344.45 699.96M345.72 676.35L356.92 687.55M345.72 687.55L356.92 676.35M358.19 656.49L369.39 667.69M358.19 667.69L369.39 656.49M370.65 655.07L381.85 666.27M370.65 666.27L381.85 655.07M395.59 718.4L406.79 729.61M395.59 729.61L406.79 718.4M408.06 728.73L419.26 739.93M408.06 739.93L419.26 728.73M426.76 671.19L437.96 682.39M426.76 682.39L437.96 671.19M439.22 681.51L450.42 692.71M439.22 692.71L450.42 681.51M470.39 752.98L481.59 764.18M470.39 764.18L481.59 752.98" stroke-width="2.15"/></g>
<g fill="none" stroke="#000"><polyline points="530.72,639.51 555.66,768.51 586.82,768.51 599.29,768.51 611.76,768.51 630.46,768.51 642.93,639.51 655.39,639.51 661.63,768.51 674.09,768.51" stroke-width="1.9" stroke-dasharray="1.75 5.25 7 5.25"/><polyline points="530.72,717.3 555.66,670.6 586.82,727.62 599.29,754.19 611.76,724 630.46,679.76 642.93,697.95 655.39,738.71 661.63,749.03 674.09,762.32" stroke-width="1.9" stroke-linejoin="round"/><circle cx="530.72" cy="639.51" r="4.95" stroke-width="2.15"/><circle cx="555.66" cy="768.51" r="4.95" stroke-width="2.15"/><circle cx="586.82" cy="768.51" r="4.95" stroke-width="2.15"/><circle cx="599.29" cy="768.51" r="4.95" stroke-width="2.15"/><circle cx="611.76" cy="768.51" r="4.95" stroke-width="2.15"/><circle cx="630.46" cy="768.51" r="4.95" stroke-width="2.15"/><circle cx="642.93" cy="639.51" r="4.95" stroke-width="2.15"/><circle cx="655.39" cy="639.51" r="4.95" stroke-width="2.15"/><circle cx="661.63" cy="768.51" r="4.95" stroke-width="2.15"/><circle cx="674.09" cy="768.51" r="4.95" stroke-width="2.15"/><path d="M525.12 711.7L536.32 722.9M525.12 722.9L536.32 711.7M550.06 665L561.26 676.2M550.06 676.2L561.26 665M581.22 722.02L592.42 733.22M581.22 733.22L592.42 722.02M593.69 748.59L604.89 759.79M593.69 759.79L604.89 748.59M606.16 718.4L617.36 729.61M606.16 729.61L617.36 718.4M624.86 674.16L636.06 685.36M624.86 685.36L636.06 674.16M637.33 692.35L648.53 703.55M637.33 703.55L648.53 692.35M649.79 733.11L660.99 744.31M649.79 744.31L660.99 733.11M656.03 743.43L667.23 754.63M656.03 754.63L667.23 743.43M668.49 756.72L679.69 767.92M668.49 767.92L679.69 756.72" stroke-width="2.15"/></g>
<g fill="none" stroke="#000"><polyline points="722.59,768.51 741.29,639.51 753.76,639.51 766.23,639.51 772.46,768.51 784.93,768.51 797.4,768.51 809.86,768.51 816.1,768.51 841.03,768.51 859.73,768.51 872.2,639.51" stroke-width="1.9" stroke-dasharray="1.75 5.25 7 5.25"/><polyline points="722.59,739.49 741.29,693.04 753.76,660.67 766.23,676.15 772.46,746.84 784.93,750.45 797.4,756.38 809.86,745.29 816.1,715.1 841.03,696.66 859.73,764.64 872.2,760.77" stroke-width="1.9" stroke-linejoin="round"/><circle cx="722.59" cy="768.51" r="4.95" stroke-width="2.15"/><circle cx="741.29" cy="639.51" r="4.95" stroke-width="2.15"/><circle cx="753.76" cy="639.51" r="4.95" stroke-width="2.15"/><circle cx="766.23" cy="639.51" r="4.95" stroke-width="2.15"/><circle cx="772.46" cy="768.51" r="4.95" stroke-width="2.15"/><circle cx="784.93" cy="768.51" r="4.95" stroke-width="2.15"/><circle cx="797.4" cy="768.51" r="4.95" stroke-width="2.15"/><circle cx="809.86" cy="768.51" r="4.95" stroke-width="2.15"/><circle cx="816.1" cy="768.51" r="4.95" stroke-width="2.15"/><circle cx="841.03" cy="768.51" r="4.95" stroke-width="2.15"/><circle cx="859.73" cy="768.51" r="4.95" stroke-width="2.15"/><circle cx="872.2" cy="639.51" r="4.95" stroke-width="2.15"/><path d="M716.99 733.88L728.19 745.09M716.99 745.09L728.19 733.88M735.69 687.44L746.89 698.64M735.69 698.64L746.89 687.44M748.16 655.07L759.36 666.27M748.16 666.27L759.36 655.07M760.63 670.55L771.83 681.75M760.63 681.75L771.83 670.55M766.86 741.24L778.06 752.44M766.86 752.44L778.06 741.24M779.33 744.85L790.53 756.05M779.33 756.05L790.53 744.85M791.8 750.78L803 761.98M791.8 761.98L803 750.78M804.26 739.69L815.46 750.89M804.26 750.89L815.46 739.69M810.5 709.5L821.7 720.7M810.5 720.7L821.7 709.5M835.43 691.06L846.63 702.26M835.43 702.26L846.63 691.06M854.13 759.04L865.33 770.24M854.13 770.24L865.33 759.04M866.6 755.17L877.8 766.37M866.6 766.37L877.8 755.17" stroke-width="2.15"/></g>
<g fill="none" stroke="#000"><polyline points="920.7,639.51 933.16,639.51 945.63,768.51 958.1,639.51 976.8,768.51 1001.73,768.51 1020.43,639.51 1032.9,639.51 1057.83,768.51" stroke-width="1.9" stroke-dasharray="1.75 5.25 7 5.25"/><polyline points="920.7,712.91 933.16,678.98 945.63,653.96 958.1,664.28 976.8,742.39 1001.73,734.33 1020.43,709.17 1032.9,682.73 1057.83,762.32" stroke-width="1.9" stroke-linejoin="round"/><circle cx="920.7" cy="639.51" r="4.95" stroke-width="2.15"/><circle cx="933.16" cy="639.51" r="4.95" stroke-width="2.15"/><circle cx="945.63" cy="768.51" r="4.95" stroke-width="2.15"/><circle cx="958.1" cy="639.51" r="4.95" stroke-width="2.15"/><circle cx="976.8" cy="768.51" r="4.95" stroke-width="2.15"/><circle cx="1001.73" cy="768.51" r="4.95" stroke-width="2.15"/><circle cx="1020.43" cy="639.51" r="4.95" stroke-width="2.15"/><circle cx="1032.9" cy="639.51" r="4.95" stroke-width="2.15"/><circle cx="1057.83" cy="768.51" r="4.95" stroke-width="2.15"/><path d="M915.1 707.31L926.3 718.51M915.1 718.51L926.3 707.31M927.56 673.38L938.76 684.58M927.56 684.58L938.76 673.38M940.03 648.36L951.23 659.56M940.03 659.56L951.23 648.36M952.5 658.68L963.7 669.88M952.5 669.88L963.7 658.68M971.2 736.79L982.4 747.99M971.2 747.99L982.4 736.79M996.13 728.73L1007.33 739.93M996.13 739.93L1007.33 728.73M1014.83 703.57L1026.03 714.77M1014.83 714.77L1026.03 703.57M1027.3 677.12L1038.5 688.33M1027.3 688.33L1038.5 677.12M1052.23 756.72L1063.43 767.92M1052.23 767.92L1063.43 756.72" stroke-width="2.15"/></g>
<g fill="none" stroke="#000"><polyline points="1118.8,768.51 1131.27,639.51 1137.5,639.51 1149.97,768.51 1162.43,768.51 1168.67,768.51 1193.6,768.51 1218.54,768.51 1224.77,768.51 1237.24,768.51 1255.94,768.51" stroke-width="1.9" stroke-dasharray="1.75 5.25 7 5.25"/><polyline points="1118.8,742.39 1131.27,721.04 1137.5,681.18 1149.97,701.82 1162.43,758.58 1168.67,760.12 1193.6,757.8 1218.54,744.64 1224.77,724.39 1237.24,762.96 1255.94,763.74" stroke-width="1.9" stroke-linejoin="round"/><circle cx="1118.8" cy="768.51" r="4.95" stroke-width="2.15"/><circle cx="1131.27" cy="639.51" r="4.95" stroke-width="2.15"/><circle cx="1137.5" cy="639.51" r="4.95" stroke-width="2.15"/><circle cx="1149.97" cy="768.51" r="4.95" stroke-width="2.15"/><circle cx="1162.43" cy="768.51" r="4.95" stroke-width="2.15"/><circle cx="1168.67" cy="768.51" r="4.95" stroke-width="2.15"/><circle cx="1193.6" cy="768.51" r="4.95" stroke-width="2.15"/><circle cx="1218.54" cy="768.51" r="4.95" stroke-width="2.15"/><circle cx="1224.77" cy="768.51" r="4.95" stroke-width="2.15"/><circle cx="1237.24" cy="768.51" r="4.95" stroke-width="2.15"/><circle cx="1255.94" cy="768.51" r="4.95" stroke-width="2.15"/><path d="M1113.2 736.79L1124.4 747.99M1113.2 747.99L1124.4 736.79M1125.67 715.44L1136.87 726.64M1125.67 726.64L1136.87 715.44M1131.9 675.58L1143.1 686.78M1131.9 686.78L1143.1 675.58M1144.37 696.22L1155.57 707.42M1144.37 707.42L1155.57 696.22M1156.83 752.98L1168.03 764.18M1156.83 764.18L1168.03 752.98M1163.07 754.52L1174.27 765.73M1163.07 765.73L1174.27 754.52M1188 752.2L1199.2 763.4M1188 763.4L1199.2 752.2M1212.94 739.04L1224.14 750.25M1212.94 750.25L1224.14 739.04M1219.17 718.79L1230.37 729.99M1219.17 729.99L1230.37 718.79M1231.64 757.36L1242.84 768.56M1231.64 768.56L1242.84 757.36M1250.34 758.14L1261.54 769.34M1250.34 769.34L1261.54 758.14" stroke-width="2.15"/></g>
<g fill="none" stroke="#000"><polyline points="159.45,949.73 171.92,820.73 178.15,820.73 209.32,949.73 221.79,949.73 265.42,820.73 277.89,949.73" stroke-width="1.9" stroke-dasharray="1.75 5.25 7 5.25"/><polyline points="159.45,895.29 171.92,870.27 178.15,841.11 209.32,928.06 221.79,936.19 265.42,872.72 277.89,939.02" stroke-width="1.9" stroke-linejoin="round"/><circle cx="159.45" cy="949.73" r="4.95" stroke-width="2.15"/><circle cx="171.92" cy="820.73" r="4.95" stroke-width="2.15"/><circle cx="178.15" cy="820.73" r="4.95" stroke-width="2.15"/><circle cx="209.32" cy="949.73" r="4.95" stroke-width="2.15"/><circle cx="221.79" cy="949.73" r="4.95" stroke-width="2.15"/><circle cx="265.42" cy="820.73" r="4.95" stroke-width="2.15"/><circle cx="277.89" cy="949.73" r="4.95" stroke-width="2.15"/><path d="M153.85 889.69L165.05 900.89M153.85 900.89L165.05 889.69M166.32 864.67L177.52 875.87M166.32 875.87L177.52 864.67M172.55 835.51L183.75 846.71M172.55 846.71L183.75 835.51M203.72 922.46L214.92 933.66M203.72 933.66L214.92 922.46M216.19 930.59L227.39 941.79M216.19 941.79L227.39 930.59M259.82 867.12L271.02 878.32M259.82 878.32L271.02 867.12M272.29 933.42L283.49 944.62M272.29 944.62L283.49 933.42" stroke-width="2.15"/></g>
<g fill="none" stroke="#000"><polyline points="338.85,949.73 345.09,949.73 357.55,820.73 382.49,820.73 388.72,949.73 438.59,949.73 457.29,949.73 469.76,949.73" stroke-width="1.9" stroke-dasharray="1.75 5.25 7 5.25"/><polyline points="338.85,928.77 345.09,918.45 357.55,887.55 382.49,868.33 388.72,935.41 438.59,899.29 457.29,890.39 469.76,942.76" stroke-width="1.9" stroke-linejoin="round"/><circle cx="338.85" cy="949.73" r="4.95" stroke-width="2.15"/><circle cx="345.09" cy="949.73" r="4.95" stroke-width="2.15"/><circle cx="357.55" cy="820.73" r="4.95" stroke-width="2.15"/><circle cx="382.49" cy="820.73" r="4.95" stroke-width="2.15"/><circle cx="388.72" cy="949.73" r="4.95" stroke-width="2.15"/><circle cx="438.59" cy="949.73" r="4.95" stroke-width="2.15"/><circle cx="457.29" cy="949.73" r="4.95" stroke-width="2.15"/><circle cx="469.76" cy="949.73" r="4.95" stroke-width="2.15"/><path d="M333.25 923.17L344.45 934.37M333.25 934.37L344.45 923.17M339.49 912.85L350.69 924.05M339.49 924.05L350.69 912.85M351.95 881.95L363.15 893.15M351.95 893.15L363.15 881.95M376.89 862.73L388.09 873.93M376.89 873.93L388.09 862.73M383.12 929.81L394.32 941.01M383.12 941.01L394.32 929.81M432.99 893.69L444.19 904.89M432.99 904.89L444.19 893.69M451.69 884.79L462.89 895.99M451.69 895.99L462.89 884.79M464.16 937.16L475.36 948.36M464.16 948.36L475.36 937.16" stroke-width="2.15"/></g>
<g fill="none" stroke="#000"><polyline points="530.72,949.73 543.19,949.73 555.66,820.73 568.12,820.73 593.06,949.73 624.23,820.73 667.86,949.73 680.33,949.73" stroke-width="1.9" stroke-dasharray="1.75 5.25 7 5.25"/><polyline points="530.72,911.8 543.19,888.2 555.66,863.17 568.12,860.98 593.06,926.51 624.23,883.04 667.86,947.15 680.33,939.02" stroke-width="1.9" stroke-linejoin="round"/><circle cx="530.72" cy="949.73" r="4.95" stroke-width="2.15"/><circle cx="543.19" cy="949.73" r="4.95" stroke-width="2.15"/><circle cx="555.66" cy="820.73" r="4.95" stroke-width="2.15"/><circle cx="568.12" cy="820.73" r="4.95" stroke-width="2.15"/><circle cx="593.06" cy="949.73" r="4.95" stroke-width="2.15"/><circle cx="624.23" cy="820.73" r="4.95" stroke-width="2.15"/><circle cx="667.86" cy="949.73" r="4.95" stroke-width="2.15"/><circle cx="680.33" cy="949.73" r="4.95" stroke-width="2.15"/><path d="M525.12 906.2L536.32 917.4M525.12 917.4L536.32 906.2M537.59 882.6L548.79 893.8M537.59 893.8L548.79 882.6M550.06 857.57L561.26 868.77M550.06 868.77L561.26 857.57M562.52 855.38L573.72 866.58M562.52 866.58L573.72 855.38M587.46 920.91L598.66 932.11M587.46 932.11L598.66 920.91M618.63 877.44L629.83 888.64M618.63 888.64L629.83 877.44M662.26 941.55L673.46 952.75M662.26 952.75L673.46 941.55M674.73 933.42L685.93 944.62M674.73 944.62L685.93 933.42" stroke-width="2.15"/></g>
<g fill="none" stroke="#000"><polyline points="735.06,949.73 759.99,820.73 772.46,949.73 791.16,949.73 803.63,949.73 809.86,949.73 822.33,949.73 847.26,949.73 853.5,949.73 859.73,949.73" stroke-width="1.9" stroke-dasharray="1.75 5.25 7 5.25"/><polyline points="735.06,926.51 759.99,903.03 772.46,940.7 791.16,947.92 803.63,939.8 809.86,939.8 822.33,915.55 847.26,942.76 853.5,947.15 859.73,947.92" stroke-width="1.9" stroke-linejoin="round"/><circle cx="735.06" cy="949.73" r="4.95" stroke-width="2.15"/><circle cx="759.99" cy="820.73" r="4.95" stroke-width="2.15"/><circle cx="772.46" cy="949.73" r="4.95" stroke-width="2.15"/><circle cx="791.16" cy="949.73" r="4.95" stroke-width="2.15"/><circle cx="803.63" cy="949.73" r="4.95" stroke-width="2.15"/><circle cx="809.86" cy="949.73" r="4.95" stroke-width="2.15"/><circle cx="822.33" cy="949.73" r="4.95" stroke-width="2.15"/><circle cx="847.26" cy="949.73" r="4.95" stroke-width="2.15"/><circle cx="853.5" cy="949.73" r="4.95" stroke-width="2.15"/><circle cx="859.73" cy="949.73" r="4.95" stroke-width="2.15"/><path d="M729.46 920.91L740.66 932.11M729.46 932.11L740.66 920.91M754.39 897.43L765.59 908.63M754.39 908.63L765.59 897.43M766.86 935.1L778.06 946.3M766.86 946.3L778.06 935.1M785.56 942.32L796.76 953.52M785.56 953.52L796.76 942.32M798.03 934.2L809.23 945.4M798.03 945.4L809.23 934.2M804.26 934.2L815.46 945.4M804.26 945.4L815.46 934.2M816.73 909.95L827.93 921.15M816.73 921.15L827.93 909.95M841.66 937.16L852.86 948.36M841.66 948.36L852.86 937.16M847.9 941.55L859.1 952.75M847.9 952.75L859.1 941.55M854.13 942.32L865.33 953.52M854.13 953.52L865.33 942.32" stroke-width="2.15"/></g>
<g fill="none" stroke="#000"><polyline points="914.46,820.73 933.16,949.73 951.86,949.73 964.33,949.73 976.8,949.73 989.27,949.73 995.5,949.73 1007.97,949.73 1020.43,949.73 1032.9,949.73 1039.13,820.73 1051.6,949.73" stroke-width="1.9" stroke-dasharray="1.75 5.25 7 5.25"/><polyline points="914.46,930.25 933.16,888.97 951.86,886.78 964.33,935.41 976.8,937.6 989.27,940.7 995.5,934.64 1007.97,909.61 1020.43,918.45 1032.9,892.71 1039.13,939.8 1051.6,947.15" stroke-width="1.9" stroke-linejoin="round"/><circle cx="914.46" cy="820.73" r="4.95" stroke-width="2.15"/><circle cx="933.16" cy="949.73" r="4.95" stroke-width="2.15"/><circle cx="951.86" cy="949.73" r="4.95" stroke-width="2.15"/><circle cx="964.33" cy="949.73" r="4.95" stroke-width="2.15"/><circle cx="976.8" cy="949.73" r="4.95" stroke-width="2.15"/><circle cx="989.27" cy="949.73" r="4.95" stroke-width="2.15"/><circle cx="995.5" cy="949.73" r="4.95" stroke-width="2.15"/><circle cx="1007.97" cy="949.73" r="4.95" stroke-width="2.15"/><circle cx="1020.43" cy="949.73" r="4.95" stroke-width="2.15"/><circle cx="1032.9" cy="949.73" r="4.95" stroke-width="2.15"/><circle cx="1039.13" cy="820.73" r="4.95" stroke-width="2.15"/><circle cx="1051.6" cy="949.73" r="4.95" stroke-width="2.15"/><path d="M908.86 924.65L920.06 935.85M908.86 935.85L920.06 924.65M927.56 883.37L938.76 894.57M927.56 894.57L938.76 883.37M946.26 881.18L957.46 892.38M946.26 892.38L957.46 881.18M958.73 929.81L969.93 941.01M958.73 941.01L969.93 929.81M971.2 932L982.4 943.2M971.2 943.2L982.4 932M983.67 935.1L994.87 946.3M983.67 946.3L994.87 935.1M989.9 929.04L1001.1 940.24M989.9 940.24L1001.1 929.04M1002.37 904.01L1013.57 915.21M1002.37 915.21L1013.57 904.01M1014.83 912.85L1026.03 924.05M1014.83 924.05L1026.03 912.85M1027.3 887.11L1038.5 898.31M1027.3 898.31L1038.5 887.11M1033.53 934.2L1044.73 945.4M1033.53 945.4L1044.73 934.2M1046 941.55L1057.2 952.75M1046 952.75L1057.2 941.55" stroke-width="2.15"/></g>
<g fill="none" stroke="#000"><polyline points="1118.8,949.73 1131.27,820.73 1143.73,820.73 1156.2,949.73 1168.67,949.73 1187.37,949.73 1199.84,949.73 1212.3,949.73 1224.77,949.73 1243.47,949.73" stroke-width="1.9" stroke-dasharray="1.75 5.25 7 5.25"/><polyline points="1118.8,913.29 1131.27,889.75 1143.73,886 1156.2,936.19 1168.67,938.38 1187.37,933.86 1199.84,908.84 1212.3,918.45 1224.77,891.94 1243.47,946.5" stroke-width="1.9" stroke-linejoin="round"/><circle cx="1118.8" cy="949.73" r="4.95" stroke-width="2.15"/><circle cx="1131.27" cy="820.73" r="4.95" stroke-width="2.15"/><circle cx="1143.73" cy="820.73" r="4.95" stroke-width="2.15"/><circle cx="1156.2" cy="949.73" r="4.95" stroke-width="2.15"/><circle cx="1168.67" cy="949.73" r="4.95" stroke-width="2.15"/><circle cx="1187.37" cy="949.73" r="4.95" stroke-width="2.15"/><circle cx="1199.84" cy="949.73" r="4.95" stroke-width="2.15"/><circle cx="1212.3" cy="949.73" r="4.95" stroke-width="2.15"/><circle cx="1224.77" cy="949.73" r="4.95" stroke-width="2.15"/><circle cx="1243.47" cy="949.73" r="4.95" stroke-width="2.15"/><path d="M1113.2 907.69L1124.4 918.89M1113.2 918.89L1124.4 907.69M1125.67 884.14L1136.87 895.35M1125.67 895.35L1136.87 884.14M1138.13 880.4L1149.33 891.6M1138.13 891.6L1149.33 880.4M1150.6 930.59L1161.8 941.79M1150.6 941.79L1161.8 930.59M1163.07 932.78L1174.27 943.98M1163.07 943.98L1174.27 932.78M1181.77 928.26L1192.97 939.46M1181.77 939.46L1192.97 928.26M1194.24 903.24L1205.44 914.44M1194.24 914.44L1205.44 903.24M1206.7 912.85L1217.9 924.05M1206.7 924.05L1217.9 912.85M1219.17 886.34L1230.37 897.54M1219.17 897.54L1230.37 886.34M1237.87 940.9L1249.07 952.11M1237.87 952.11L1249.07 940.9" stroke-width="2.15"/></g>
<line x1="115.6" x2="1268.62" y1="52.88" y2="52.88" stroke="#0a0a0a" stroke-width="1.7"/>
<line x1="115.6" x2="1268.62" y1="86.7" y2="86.7" stroke="#0a0a0a" stroke-width="2.3"/>
<line x1="115.6" x2="1268.62" y1="234.1" y2="234.1" stroke="#0a0a0a" stroke-width="1.9"/>
<line x1="115.6" x2="1268.62" y1="267.92" y2="267.92" stroke="#0a0a0a" stroke-width="2.3"/>
<line x1="115.6" x2="1268.62" y1="415.32" y2="415.32" stroke="#0a0a0a" stroke-width="1.9"/>
<line x1="115.6" x2="1268.62" y1="449.14" y2="449.14" stroke="#0a0a0a" stroke-width="2.3"/>
<line x1="115.6" x2="1268.62" y1="596.54" y2="596.54" stroke="#0a0a0a" stroke-width="1.9"/>
<line x1="115.6" x2="1268.62" y1="630.36" y2="630.36" stroke="#0a0a0a" stroke-width="2.3"/>
<line x1="115.6" x2="1268.62" y1="777.76" y2="777.76" stroke="#0a0a0a" stroke-width="1.9"/>
<line x1="115.6" x2="1268.62" y1="811.58" y2="811.58" stroke="#0a0a0a" stroke-width="2.3"/>
<line x1="115.6" x2="1268.62" y1="958.98" y2="958.98" stroke="#0a0a0a" stroke-width="1.9"/>
<line x1="116.5" x2="116.5" y1="52.88" y2="958.98" stroke="#0a0a0a" stroke-width="1.7"/>
<line x1="308.37" x2="308.37" y1="52.88" y2="958.98" stroke="#0a0a0a" stroke-width="2.1"/>
<line x1="500.24" x2="500.24" y1="52.88" y2="958.98" stroke="#0a0a0a" stroke-width="2.1"/>
<line x1="692.11" x2="692.11" y1="52.88" y2="958.98" stroke="#0a0a0a" stroke-width="2.1"/>
<line x1="883.98" x2="883.98" y1="52.88" y2="958.98" stroke="#0a0a0a" stroke-width="2.1"/>
<line x1="1075.85" x2="1075.85" y1="52.88" y2="958.98" stroke="#0a0a0a" stroke-width="2.1"/>
<line x1="1267.72" x2="1267.72" y1="52.88" y2="958.98" stroke="#0a0a0a" stroke-width="1.7"/>
<text transform="translate(211.84 79.9) scale(1.0 1.07)" font-size="28" text-anchor="middle">120</text>
<text transform="translate(403.7 79.9) scale(1.0 1.07)" font-size="28" text-anchor="middle">121</text>
<text transform="translate(595.57 79.9) scale(1.0 1.07)" font-size="28" text-anchor="middle">122</text>
<text transform="translate(787.45 79.9) scale(1.0 1.07)" font-size="28" text-anchor="middle">123</text>
<text transform="translate(979.31 79.9) scale(1.0 1.07)" font-size="28" text-anchor="middle">124</text>
<text transform="translate(1171.18 79.9) scale(1.0 1.07)" font-size="28" text-anchor="middle">125</text>
<text transform="translate(211.84 262.12) scale(1.0 1.07)" font-size="28" text-anchor="middle">108</text>
<text transform="translate(403.7 262.12) scale(1.0 1.07)" font-size="28" text-anchor="middle">109</text>
<text transform="translate(595.57 262.12) scale(1.0 1.07)" font-size="28" text-anchor="middle">111</text>
<text transform="translate(787.45 262.12) scale(1.0 1.07)" font-size="28" text-anchor="middle">117</text>
<text transform="translate(979.31 262.12) scale(1.0 1.07)" font-size="28" text-anchor="middle">118</text>
<text transform="translate(1171.18 262.12) scale(1.0 1.07)" font-size="28" text-anchor="middle">119</text>
<text transform="translate(211.84 442.24) scale(1.0 1.07)" font-size="28" text-anchor="middle">102</text>
<text transform="translate(403.7 442.24) scale(1.0 1.07)" font-size="28" text-anchor="middle">103</text>
<text transform="translate(595.57 442.24) scale(1.0 1.07)" font-size="28" text-anchor="middle">104</text>
<text transform="translate(787.45 442.24) scale(1.0 1.07)" font-size="28" text-anchor="middle">105</text>
<text transform="translate(979.31 442.24) scale(1.0 1.07)" font-size="28" text-anchor="middle">106</text>
<text transform="translate(1171.18 442.24) scale(1.0 1.07)" font-size="28" text-anchor="middle">107</text>
<text transform="translate(211.84 626.76) scale(1.0 1.07)" font-size="28" text-anchor="middle">96</text>
<text transform="translate(403.7 626.76) scale(1.0 1.07)" font-size="28" text-anchor="middle">97</text>
<text transform="translate(595.57 626.76) scale(1.0 1.07)" font-size="28" text-anchor="middle">98</text>
<text transform="translate(787.45 626.76) scale(1.0 1.07)" font-size="28" text-anchor="middle">99</text>
<text transform="translate(979.31 626.76) scale(1.0 1.07)" font-size="28" text-anchor="middle">100</text>
<text transform="translate(1171.18 626.76) scale(1.0 1.07)" font-size="28" text-anchor="middle">101</text>
<text transform="translate(211.84 806.18) scale(1.0 1.07)" font-size="28" text-anchor="middle">89</text>
<text transform="translate(403.7 806.18) scale(1.0 1.07)" font-size="28" text-anchor="middle">90</text>
<text transform="translate(595.57 806.18) scale(1.0 1.07)" font-size="28" text-anchor="middle">91</text>
<text transform="translate(787.45 806.18) scale(1.0 1.07)" font-size="28" text-anchor="middle">92</text>
<text transform="translate(979.31 806.18) scale(1.0 1.07)" font-size="28" text-anchor="middle">93</text>
<text transform="translate(1171.18 806.18) scale(1.0 1.07)" font-size="28" text-anchor="middle">95</text>
<line x1="140.75" x2="140.75" y1="39.08" y2="52.88" stroke="#1a1a1a" stroke-width="2.0"/>
<line x1="140.75" x2="140.75" y1="958.98" y2="972.78" stroke="#1a1a1a" stroke-width="2.0"/>
<text transform="translate(138.65 1005.9) scale(0.93 1.075)" font-size="28" text-anchor="middle">5</text>
<line x1="171.92" x2="171.92" y1="39.08" y2="52.88" stroke="#1a1a1a" stroke-width="2.0"/>
<line x1="171.92" x2="171.92" y1="958.98" y2="972.78" stroke="#1a1a1a" stroke-width="2.0"/>
<text transform="translate(171.02 1005.9) scale(0.93 1.075)" font-size="28" text-anchor="middle">10</text>
<line x1="203.08" x2="203.08" y1="39.08" y2="52.88" stroke="#1a1a1a" stroke-width="2.0"/>
<line x1="203.08" x2="203.08" y1="958.98" y2="972.78" stroke="#1a1a1a" stroke-width="2.0"/>
<text transform="translate(202.18 1005.9) scale(0.93 1.075)" font-size="28" text-anchor="middle">15</text>
<line x1="234.25" x2="234.25" y1="39.08" y2="52.88" stroke="#1a1a1a" stroke-width="2.0"/>
<line x1="234.25" x2="234.25" y1="958.98" y2="972.78" stroke="#1a1a1a" stroke-width="2.0"/>
<text transform="translate(233.35 1005.9) scale(0.93 1.075)" font-size="28" text-anchor="middle">20</text>
<line x1="265.42" x2="265.42" y1="39.08" y2="52.88" stroke="#1a1a1a" stroke-width="2.0"/>
<line x1="265.42" x2="265.42" y1="958.98" y2="972.78" stroke="#1a1a1a" stroke-width="2.0"/>
<text transform="translate(264.52 1005.9) scale(0.93 1.075)" font-size="28" text-anchor="middle">25</text>
<line x1="296.59" x2="296.59" y1="39.08" y2="52.88" stroke="#1a1a1a" stroke-width="2.0"/>
<line x1="296.59" x2="296.59" y1="958.98" y2="972.78" stroke="#1a1a1a" stroke-width="2.0"/>
<text transform="translate(295.69 1005.9) scale(0.93 1.075)" font-size="28" text-anchor="middle">30</text>
<line x1="332.62" x2="332.62" y1="39.08" y2="52.88" stroke="#1a1a1a" stroke-width="2.0"/>
<line x1="332.62" x2="332.62" y1="958.98" y2="972.78" stroke="#1a1a1a" stroke-width="2.0"/>
<text transform="translate(329.82 25.9) scale(0.93 1.075)" font-size="28" text-anchor="middle">5</text>
<line x1="363.79" x2="363.79" y1="39.08" y2="52.88" stroke="#1a1a1a" stroke-width="2.0"/>
<line x1="363.79" x2="363.79" y1="958.98" y2="972.78" stroke="#1a1a1a" stroke-width="2.0"/>
<text transform="translate(361.79 25.9) scale(0.93 1.075)" font-size="28" text-anchor="middle">10</text>
<line x1="394.95" x2="394.95" y1="39.08" y2="52.88" stroke="#1a1a1a" stroke-width="2.0"/>
<line x1="394.95" x2="394.95" y1="958.98" y2="972.78" stroke="#1a1a1a" stroke-width="2.0"/>
<text transform="translate(392.95 25.9) scale(0.93 1.075)" font-size="28" text-anchor="middle">15</text>
<line x1="426.12" x2="426.12" y1="39.08" y2="52.88" stroke="#1a1a1a" stroke-width="2.0"/>
<line x1="426.12" x2="426.12" y1="958.98" y2="972.78" stroke="#1a1a1a" stroke-width="2.0"/>
<text transform="translate(424.12 25.9) scale(0.93 1.075)" font-size="28" text-anchor="middle">20</text>
<line x1="457.29" x2="457.29" y1="39.08" y2="52.88" stroke="#1a1a1a" stroke-width="2.0"/>
<line x1="457.29" x2="457.29" y1="958.98" y2="972.78" stroke="#1a1a1a" stroke-width="2.0"/>
<text transform="translate(455.29 25.9) scale(0.93 1.075)" font-size="28" text-anchor="middle">25</text>
<line x1="488.46" x2="488.46" y1="39.08" y2="52.88" stroke="#1a1a1a" stroke-width="2.0"/>
<line x1="488.46" x2="488.46" y1="958.98" y2="972.78" stroke="#1a1a1a" stroke-width="2.0"/>
<text transform="translate(486.46 25.9) scale(0.93 1.075)" font-size="28" text-anchor="middle">30</text>
<line x1="524.49" x2="524.49" y1="39.08" y2="52.88" stroke="#1a1a1a" stroke-width="2.0"/>
<line x1="524.49" x2="524.49" y1="958.98" y2="972.78" stroke="#1a1a1a" stroke-width="2.0"/>
<text transform="translate(522.49 1005.9) scale(0.93 1.075)" font-size="28" text-anchor="middle">5</text>
<line x1="555.66" x2="555.66" y1="39.08" y2="52.88" stroke="#1a1a1a" stroke-width="2.0"/>
<line x1="555.66" x2="555.66" y1="958.98" y2="972.78" stroke="#1a1a1a" stroke-width="2.0"/>
<text transform="translate(554.86 1005.9) scale(0.93 1.075)" font-size="28" text-anchor="middle">10</text>
<line x1="586.82" x2="586.82" y1="39.08" y2="52.88" stroke="#1a1a1a" stroke-width="2.0"/>
<line x1="586.82" x2="586.82" y1="958.98" y2="972.78" stroke="#1a1a1a" stroke-width="2.0"/>
<text transform="translate(586.02 1005.9) scale(0.93 1.075)" font-size="28" text-anchor="middle">15</text>
<line x1="617.99" x2="617.99" y1="39.08" y2="52.88" stroke="#1a1a1a" stroke-width="2.0"/>
<line x1="617.99" x2="617.99" y1="958.98" y2="972.78" stroke="#1a1a1a" stroke-width="2.0"/>
<text transform="translate(617.19 1005.9) scale(0.93 1.075)" font-size="28" text-anchor="middle">20</text>
<line x1="649.16" x2="649.16" y1="39.08" y2="52.88" stroke="#1a1a1a" stroke-width="2.0"/>
<line x1="649.16" x2="649.16" y1="958.98" y2="972.78" stroke="#1a1a1a" stroke-width="2.0"/>
<text transform="translate(648.36 1005.9) scale(0.93 1.075)" font-size="28" text-anchor="middle">25</text>
<line x1="680.33" x2="680.33" y1="39.08" y2="52.88" stroke="#1a1a1a" stroke-width="2.0"/>
<line x1="680.33" x2="680.33" y1="958.98" y2="972.78" stroke="#1a1a1a" stroke-width="2.0"/>
<text transform="translate(679.53 1005.9) scale(0.93 1.075)" font-size="28" text-anchor="middle">30</text>
<line x1="716.36" x2="716.36" y1="39.08" y2="52.88" stroke="#1a1a1a" stroke-width="2.0"/>
<line x1="716.36" x2="716.36" y1="958.98" y2="972.78" stroke="#1a1a1a" stroke-width="2.0"/>
<text transform="translate(715.46 25.9) scale(0.93 1.075)" font-size="28" text-anchor="middle">5</text>
<line x1="747.53" x2="747.53" y1="39.08" y2="52.88" stroke="#1a1a1a" stroke-width="2.0"/>
<line x1="747.53" x2="747.53" y1="958.98" y2="972.78" stroke="#1a1a1a" stroke-width="2.0"/>
<text transform="translate(747.43 25.9) scale(0.93 1.075)" font-size="28" text-anchor="middle">10</text>
<line x1="778.69" x2="778.69" y1="39.08" y2="52.88" stroke="#1a1a1a" stroke-width="2.0"/>
<line x1="778.69" x2="778.69" y1="958.98" y2="972.78" stroke="#1a1a1a" stroke-width="2.0"/>
<text transform="translate(778.59 25.9) scale(0.93 1.075)" font-size="28" text-anchor="middle">15</text>
<line x1="809.86" x2="809.86" y1="39.08" y2="52.88" stroke="#1a1a1a" stroke-width="2.0"/>
<line x1="809.86" x2="809.86" y1="958.98" y2="972.78" stroke="#1a1a1a" stroke-width="2.0"/>
<text transform="translate(809.76 25.9) scale(0.93 1.075)" font-size="28" text-anchor="middle">20</text>
<line x1="841.03" x2="841.03" y1="39.08" y2="52.88" stroke="#1a1a1a" stroke-width="2.0"/>
<line x1="841.03" x2="841.03" y1="958.98" y2="972.78" stroke="#1a1a1a" stroke-width="2.0"/>
<text transform="translate(840.93 25.9) scale(0.93 1.075)" font-size="28" text-anchor="middle">25</text>
<line x1="872.2" x2="872.2" y1="39.08" y2="52.88" stroke="#1a1a1a" stroke-width="2.0"/>
<line x1="872.2" x2="872.2" y1="958.98" y2="972.78" stroke="#1a1a1a" stroke-width="2.0"/>
<text transform="translate(872.1 25.9) scale(0.93 1.075)" font-size="28" text-anchor="middle">30</text>
<line x1="908.23" x2="908.23" y1="39.08" y2="52.88" stroke="#1a1a1a" stroke-width="2.0"/>
<line x1="908.23" x2="908.23" y1="958.98" y2="972.78" stroke="#1a1a1a" stroke-width="2.0"/>
<text transform="translate(904.73 1005.9) scale(0.93 1.075)" font-size="28" text-anchor="middle">5</text>
<line x1="939.4" x2="939.4" y1="39.08" y2="52.88" stroke="#1a1a1a" stroke-width="2.0"/>
<line x1="939.4" x2="939.4" y1="958.98" y2="972.78" stroke="#1a1a1a" stroke-width="2.0"/>
<text transform="translate(937.1 1005.9) scale(0.93 1.075)" font-size="28" text-anchor="middle">10</text>
<line x1="970.56" x2="970.56" y1="39.08" y2="52.88" stroke="#1a1a1a" stroke-width="2.0"/>
<line x1="970.56" x2="970.56" y1="958.98" y2="972.78" stroke="#1a1a1a" stroke-width="2.0"/>
<text transform="translate(968.26 1005.9) scale(0.93 1.075)" font-size="28" text-anchor="middle">15</text>
<line x1="1001.73" x2="1001.73" y1="39.08" y2="52.88" stroke="#1a1a1a" stroke-width="2.0"/>
<line x1="1001.73" x2="1001.73" y1="958.98" y2="972.78" stroke="#1a1a1a" stroke-width="2.0"/>
<text transform="translate(999.43 1005.9) scale(0.93 1.075)" font-size="28" text-anchor="middle">20</text>
<line x1="1032.9" x2="1032.9" y1="39.08" y2="52.88" stroke="#1a1a1a" stroke-width="2.0"/>
<line x1="1032.9" x2="1032.9" y1="958.98" y2="972.78" stroke="#1a1a1a" stroke-width="2.0"/>
<text transform="translate(1030.6 1005.9) scale(0.93 1.075)" font-size="28" text-anchor="middle">25</text>
<line x1="1064.07" x2="1064.07" y1="39.08" y2="52.88" stroke="#1a1a1a" stroke-width="2.0"/>
<line x1="1064.07" x2="1064.07" y1="958.98" y2="972.78" stroke="#1a1a1a" stroke-width="2.0"/>
<text transform="translate(1061.77 1005.9) scale(0.93 1.075)" font-size="28" text-anchor="middle">30</text>
<line x1="1100.1" x2="1100.1" y1="39.08" y2="52.88" stroke="#1a1a1a" stroke-width="2.0"/>
<line x1="1100.1" x2="1100.1" y1="958.98" y2="972.78" stroke="#1a1a1a" stroke-width="2.0"/>
<text transform="translate(1097.3 25.9) scale(0.93 1.075)" font-size="28" text-anchor="middle">5</text>
<line x1="1131.27" x2="1131.27" y1="39.08" y2="52.88" stroke="#1a1a1a" stroke-width="2.0"/>
<line x1="1131.27" x2="1131.27" y1="958.98" y2="972.78" stroke="#1a1a1a" stroke-width="2.0"/>
<text transform="translate(1129.27 25.9) scale(0.93 1.075)" font-size="28" text-anchor="middle">10</text>
<line x1="1162.43" x2="1162.43" y1="39.08" y2="52.88" stroke="#1a1a1a" stroke-width="2.0"/>
<line x1="1162.43" x2="1162.43" y1="958.98" y2="972.78" stroke="#1a1a1a" stroke-width="2.0"/>
<text transform="translate(1160.43 25.9) scale(0.93 1.075)" font-size="28" text-anchor="middle">15</text>
<line x1="1193.6" x2="1193.6" y1="39.08" y2="52.88" stroke="#1a1a1a" stroke-width="2.0"/>
<line x1="1193.6" x2="1193.6" y1="958.98" y2="972.78" stroke="#1a1a1a" stroke-width="2.0"/>
<text transform="translate(1191.6 25.9) scale(0.93 1.075)" font-size="28" text-anchor="middle">20</text>
<line x1="1224.77" x2="1224.77" y1="39.08" y2="52.88" stroke="#1a1a1a" stroke-width="2.0"/>
<line x1="1224.77" x2="1224.77" y1="958.98" y2="972.78" stroke="#1a1a1a" stroke-width="2.0"/>
<text transform="translate(1222.77 25.9) scale(0.93 1.075)" font-size="28" text-anchor="middle">25</text>
<line x1="1255.94" x2="1255.94" y1="39.08" y2="52.88" stroke="#1a1a1a" stroke-width="2.0"/>
<line x1="1255.94" x2="1255.94" y1="958.98" y2="972.78" stroke="#1a1a1a" stroke-width="2.0"/>
<text transform="translate(1253.94 25.9) scale(0.93 1.075)" font-size="28" text-anchor="middle">30</text>
<line x1="102.7" x2="116.5" y1="224.85" y2="224.85" stroke="#1a1a1a" stroke-width="2.0"/>
<line x1="1267.72" x2="1281.52" y1="224.85" y2="224.85" stroke="#1a1a1a" stroke-width="2.0"/>
<text transform="translate(89.6 235.35) scale(0.93 1.075)" font-size="28" text-anchor="end">0<tspan dx="-0.6" dy="2.7">·</tspan><tspan dx="-0.6" dy="-2.7">0</tspan></text>
<line x1="102.7" x2="116.5" y1="199.05" y2="199.05" stroke="#1a1a1a" stroke-width="2.0"/>
<line x1="1267.72" x2="1281.52" y1="199.05" y2="199.05" stroke="#1a1a1a" stroke-width="2.0"/>
<text transform="translate(89.6 209.55) scale(0.93 1.075)" font-size="28" text-anchor="end">0<tspan dx="-0.6" dy="2.7">·</tspan><tspan dx="-0.6" dy="-2.7">2</tspan></text>
<line x1="102.7" x2="116.5" y1="173.25" y2="173.25" stroke="#1a1a1a" stroke-width="2.0"/>
<line x1="1267.72" x2="1281.52" y1="173.25" y2="173.25" stroke="#1a1a1a" stroke-width="2.0"/>
<text transform="translate(89.6 183.75) scale(0.93 1.075)" font-size="28" text-anchor="end">0<tspan dx="-0.6" dy="2.7">·</tspan><tspan dx="-0.6" dy="-2.7">4</tspan></text>
<line x1="102.7" x2="116.5" y1="147.45" y2="147.45" stroke="#1a1a1a" stroke-width="2.0"/>
<line x1="1267.72" x2="1281.52" y1="147.45" y2="147.45" stroke="#1a1a1a" stroke-width="2.0"/>
<text transform="translate(89.6 157.95) scale(0.93 1.075)" font-size="28" text-anchor="end">0<tspan dx="-0.6" dy="2.7">·</tspan><tspan dx="-0.6" dy="-2.7">6</tspan></text>
<line x1="102.7" x2="116.5" y1="121.65" y2="121.65" stroke="#1a1a1a" stroke-width="2.0"/>
<line x1="1267.72" x2="1281.52" y1="121.65" y2="121.65" stroke="#1a1a1a" stroke-width="2.0"/>
<text transform="translate(89.6 132.15) scale(0.93 1.075)" font-size="28" text-anchor="end">0<tspan dx="-0.6" dy="2.7">·</tspan><tspan dx="-0.6" dy="-2.7">8</tspan></text>
<line x1="102.7" x2="116.5" y1="95.85" y2="95.85" stroke="#1a1a1a" stroke-width="2.0"/>
<line x1="1267.72" x2="1281.52" y1="95.85" y2="95.85" stroke="#1a1a1a" stroke-width="2.0"/>
<text transform="translate(89.6 106.35) scale(0.93 1.075)" font-size="28" text-anchor="end">1<tspan dx="-0.6" dy="2.7">·</tspan><tspan dx="-0.6" dy="-2.7">0</tspan></text>
<line x1="102.7" x2="116.5" y1="406.07" y2="406.07" stroke="#1a1a1a" stroke-width="2.0"/>
<line x1="1267.72" x2="1281.52" y1="406.07" y2="406.07" stroke="#1a1a1a" stroke-width="2.0"/>
<text transform="translate(1293.6 416.37) scale(0.93 1.075)" font-size="28" text-anchor="start">0<tspan dx="-0.6" dy="2.7">·</tspan><tspan dx="-0.6" dy="-2.7">0</tspan></text>
<line x1="102.7" x2="116.5" y1="380.27" y2="380.27" stroke="#1a1a1a" stroke-width="2.0"/>
<line x1="1267.72" x2="1281.52" y1="380.27" y2="380.27" stroke="#1a1a1a" stroke-width="2.0"/>
<text transform="translate(1293.6 390.57) scale(0.93 1.075)" font-size="28" text-anchor="start">0<tspan dx="-0.6" dy="2.7">·</tspan><tspan dx="-0.6" dy="-2.7">2</tspan></text>
<line x1="102.7" x2="116.5" y1="354.47" y2="354.47" stroke="#1a1a1a" stroke-width="2.0"/>
<line x1="1267.72" x2="1281.52" y1="354.47" y2="354.47" stroke="#1a1a1a" stroke-width="2.0"/>
<text transform="translate(1293.6 364.77) scale(0.93 1.075)" font-size="28" text-anchor="start">0<tspan dx="-0.6" dy="2.7">·</tspan><tspan dx="-0.6" dy="-2.7">4</tspan></text>
<line x1="102.7" x2="116.5" y1="328.67" y2="328.67" stroke="#1a1a1a" stroke-width="2.0"/>
<line x1="1267.72" x2="1281.52" y1="328.67" y2="328.67" stroke="#1a1a1a" stroke-width="2.0"/>
<text transform="translate(1293.6 338.97) scale(0.93 1.075)" font-size="28" text-anchor="start">0<tspan dx="-0.6" dy="2.7">·</tspan><tspan dx="-0.6" dy="-2.7">6</tspan></text>
<line x1="102.7" x2="116.5" y1="302.87" y2="302.87" stroke="#1a1a1a" stroke-width="2.0"/>
<line x1="1267.72" x2="1281.52" y1="302.87" y2="302.87" stroke="#1a1a1a" stroke-width="2.0"/>
<text transform="translate(1293.6 313.17) scale(0.93 1.075)" font-size="28" text-anchor="start">0<tspan dx="-0.6" dy="2.7">·</tspan><tspan dx="-0.6" dy="-2.7">8</tspan></text>
<line x1="102.7" x2="116.5" y1="277.07" y2="277.07" stroke="#1a1a1a" stroke-width="2.0"/>
<line x1="1267.72" x2="1281.52" y1="277.07" y2="277.07" stroke="#1a1a1a" stroke-width="2.0"/>
<text transform="translate(1293.6 287.37) scale(0.93 1.075)" font-size="28" text-anchor="start">1<tspan dx="-0.6" dy="2.7">·</tspan><tspan dx="-0.6" dy="-2.7">0</tspan></text>
<line x1="102.7" x2="116.5" y1="587.29" y2="587.29" stroke="#1a1a1a" stroke-width="2.0"/>
<line x1="1267.72" x2="1281.52" y1="587.29" y2="587.29" stroke="#1a1a1a" stroke-width="2.0"/>
<text transform="translate(91.5 597.79) scale(0.93 1.075)" font-size="28" text-anchor="end">0<tspan dx="-0.6" dy="2.7">·</tspan><tspan dx="-0.6" dy="-2.7">0</tspan></text>
<line x1="102.7" x2="116.5" y1="561.49" y2="561.49" stroke="#1a1a1a" stroke-width="2.0"/>
<line x1="1267.72" x2="1281.52" y1="561.49" y2="561.49" stroke="#1a1a1a" stroke-width="2.0"/>
<text transform="translate(91.5 571.99) scale(0.93 1.075)" font-size="28" text-anchor="end">0<tspan dx="-0.6" dy="2.7">·</tspan><tspan dx="-0.6" dy="-2.7">2</tspan></text>
<line x1="102.7" x2="116.5" y1="535.69" y2="535.69" stroke="#1a1a1a" stroke-width="2.0"/>
<line x1="1267.72" x2="1281.52" y1="535.69" y2="535.69" stroke="#1a1a1a" stroke-width="2.0"/>
<text transform="translate(91.5 546.19) scale(0.93 1.075)" font-size="28" text-anchor="end">0<tspan dx="-0.6" dy="2.7">·</tspan><tspan dx="-0.6" dy="-2.7">4</tspan></text>
<line x1="102.7" x2="116.5" y1="509.89" y2="509.89" stroke="#1a1a1a" stroke-width="2.0"/>
<line x1="1267.72" x2="1281.52" y1="509.89" y2="509.89" stroke="#1a1a1a" stroke-width="2.0"/>
<text transform="translate(91.5 520.39) scale(0.93 1.075)" font-size="28" text-anchor="end">0<tspan dx="-0.6" dy="2.7">·</tspan><tspan dx="-0.6" dy="-2.7">6</tspan></text>
<line x1="102.7" x2="116.5" y1="484.09" y2="484.09" stroke="#1a1a1a" stroke-width="2.0"/>
<line x1="1267.72" x2="1281.52" y1="484.09" y2="484.09" stroke="#1a1a1a" stroke-width="2.0"/>
<text transform="translate(91.5 494.59) scale(0.93 1.075)" font-size="28" text-anchor="end">0<tspan dx="-0.6" dy="2.7">·</tspan><tspan dx="-0.6" dy="-2.7">8</tspan></text>
<line x1="102.7" x2="116.5" y1="458.29" y2="458.29" stroke="#1a1a1a" stroke-width="2.0"/>
<line x1="1267.72" x2="1281.52" y1="458.29" y2="458.29" stroke="#1a1a1a" stroke-width="2.0"/>
<text transform="translate(91.5 468.79) scale(0.93 1.075)" font-size="28" text-anchor="end">1<tspan dx="-0.6" dy="2.7">·</tspan><tspan dx="-0.6" dy="-2.7">0</tspan></text>
<line x1="102.7" x2="116.5" y1="768.51" y2="768.51" stroke="#1a1a1a" stroke-width="2.0"/>
<line x1="1267.72" x2="1281.52" y1="768.51" y2="768.51" stroke="#1a1a1a" stroke-width="2.0"/>
<text transform="translate(1293.6 778.81) scale(0.93 1.075)" font-size="28" text-anchor="start">0<tspan dx="-0.6" dy="2.7">·</tspan><tspan dx="-0.6" dy="-2.7">0</tspan></text>
<line x1="102.7" x2="116.5" y1="742.71" y2="742.71" stroke="#1a1a1a" stroke-width="2.0"/>
<line x1="1267.72" x2="1281.52" y1="742.71" y2="742.71" stroke="#1a1a1a" stroke-width="2.0"/>
<text transform="translate(1293.6 753.01) scale(0.93 1.075)" font-size="28" text-anchor="start">0<tspan dx="-0.6" dy="2.7">·</tspan><tspan dx="-0.6" dy="-2.7">2</tspan></text>
<line x1="102.7" x2="116.5" y1="716.91" y2="716.91" stroke="#1a1a1a" stroke-width="2.0"/>
<line x1="1267.72" x2="1281.52" y1="716.91" y2="716.91" stroke="#1a1a1a" stroke-width="2.0"/>
<text transform="translate(1293.6 727.21) scale(0.93 1.075)" font-size="28" text-anchor="start">0<tspan dx="-0.6" dy="2.7">·</tspan><tspan dx="-0.6" dy="-2.7">4</tspan></text>
<line x1="102.7" x2="116.5" y1="691.11" y2="691.11" stroke="#1a1a1a" stroke-width="2.0"/>
<line x1="1267.72" x2="1281.52" y1="691.11" y2="691.11" stroke="#1a1a1a" stroke-width="2.0"/>
<text transform="translate(1293.6 701.41) scale(0.93 1.075)" font-size="28" text-anchor="start">0<tspan dx="-0.6" dy="2.7">·</tspan><tspan dx="-0.6" dy="-2.7">6</tspan></text>
<line x1="102.7" x2="116.5" y1="665.31" y2="665.31" stroke="#1a1a1a" stroke-width="2.0"/>
<line x1="1267.72" x2="1281.52" y1="665.31" y2="665.31" stroke="#1a1a1a" stroke-width="2.0"/>
<text transform="translate(1293.6 675.61) scale(0.93 1.075)" font-size="28" text-anchor="start">0<tspan dx="-0.6" dy="2.7">·</tspan><tspan dx="-0.6" dy="-2.7">8</tspan></text>
<line x1="102.7" x2="116.5" y1="639.51" y2="639.51" stroke="#1a1a1a" stroke-width="2.0"/>
<line x1="1267.72" x2="1281.52" y1="639.51" y2="639.51" stroke="#1a1a1a" stroke-width="2.0"/>
<text transform="translate(1293.6 649.81) scale(0.93 1.075)" font-size="28" text-anchor="start">1<tspan dx="-0.6" dy="2.7">·</tspan><tspan dx="-0.6" dy="-2.7">0</tspan></text>
<line x1="102.7" x2="116.5" y1="949.73" y2="949.73" stroke="#1a1a1a" stroke-width="2.0"/>
<line x1="1267.72" x2="1281.52" y1="949.73" y2="949.73" stroke="#1a1a1a" stroke-width="2.0"/>
<text transform="translate(91.5 960.23) scale(0.93 1.075)" font-size="28" text-anchor="end">0<tspan dx="-0.6" dy="2.7">·</tspan><tspan dx="-0.6" dy="-2.7">0</tspan></text>
<line x1="102.7" x2="116.5" y1="923.93" y2="923.93" stroke="#1a1a1a" stroke-width="2.0"/>
<line x1="1267.72" x2="1281.52" y1="923.93" y2="923.93" stroke="#1a1a1a" stroke-width="2.0"/>
<text transform="translate(91.5 934.43) scale(0.93 1.075)" font-size="28" text-anchor="end">0<tspan dx="-0.6" dy="2.7">·</tspan><tspan dx="-0.6" dy="-2.7">2</tspan></text>
<line x1="102.7" x2="116.5" y1="898.13" y2="898.13" stroke="#1a1a1a" stroke-width="2.0"/>
<line x1="1267.72" x2="1281.52" y1="898.13" y2="898.13" stroke="#1a1a1a" stroke-width="2.0"/>
<text transform="translate(91.5 908.63) scale(0.93 1.075)" font-size="28" text-anchor="end">0<tspan dx="-0.6" dy="2.7">·</tspan><tspan dx="-0.6" dy="-2.7">4</tspan></text>
<line x1="102.7" x2="116.5" y1="872.33" y2="872.33" stroke="#1a1a1a" stroke-width="2.0"/>
<line x1="1267.72" x2="1281.52" y1="872.33" y2="872.33" stroke="#1a1a1a" stroke-width="2.0"/>
<text transform="translate(91.5 882.83) scale(0.93 1.075)" font-size="28" text-anchor="end">0<tspan dx="-0.6" dy="2.7">·</tspan><tspan dx="-0.6" dy="-2.7">6</tspan></text>
<line x1="102.7" x2="116.5" y1="846.53" y2="846.53" stroke="#1a1a1a" stroke-width="2.0"/>
<line x1="1267.72" x2="1281.52" y1="846.53" y2="846.53" stroke="#1a1a1a" stroke-width="2.0"/>
<text transform="translate(91.5 857.03) scale(0.93 1.075)" font-size="28" text-anchor="end">0<tspan dx="-0.6" dy="2.7">·</tspan><tspan dx="-0.6" dy="-2.7">8</tspan></text>
<line x1="102.7" x2="116.5" y1="820.73" y2="820.73" stroke="#1a1a1a" stroke-width="2.0"/>
<line x1="1267.72" x2="1281.52" y1="820.73" y2="820.73" stroke="#1a1a1a" stroke-width="2.0"/>
<text transform="translate(91.5 831.23) scale(0.93 1.075)" font-size="28" text-anchor="end">1<tspan dx="-0.6" dy="2.7">·</tspan><tspan dx="-0.6" dy="-2.7">0</tspan></text>
<text x="692.3" y="1051.8" font-size="32.6" text-anchor="middle">Month from start</text>
<text transform="translate(29.6 525.7) rotate(-90)" font-size="32.6" text-anchor="middle">Probability</text>
</svg>
</body></html>
